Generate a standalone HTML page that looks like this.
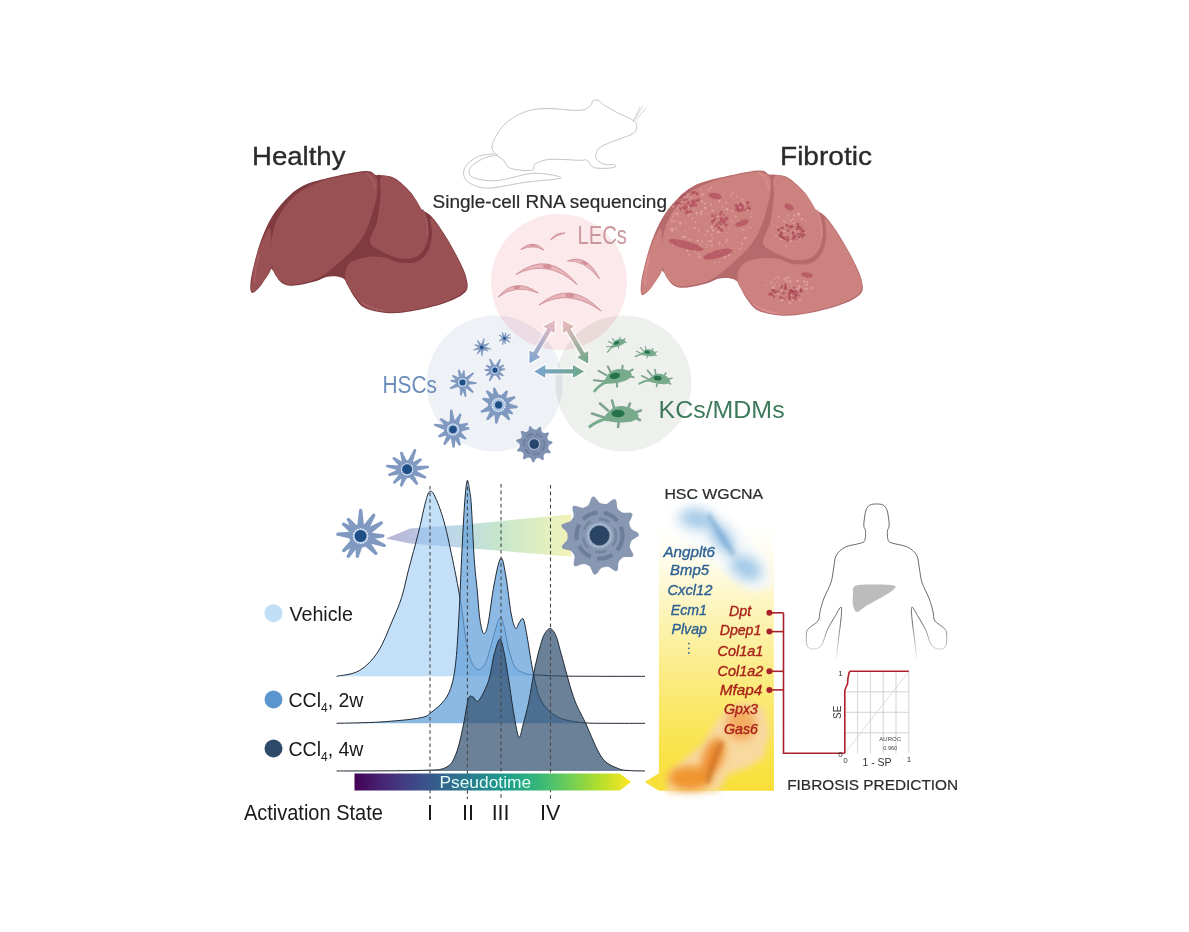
<!DOCTYPE html>
<html><head><meta charset="utf-8"><style>
html,body{margin:0;padding:0;background:#fff;width:1189px;height:932px;overflow:hidden}
svg{display:block;font-family:"Liberation Sans", sans-serif}
</style></head><body>
<svg width="1189" height="932" viewBox="0 0 1189 932">
<defs><linearGradient id="viridis" x1="0" x2="1" y1="0" y2="0"><stop offset="0" stop-color="#440154"/><stop offset="0.111" stop-color="#482878"/><stop offset="0.222" stop-color="#3e4989"/><stop offset="0.333" stop-color="#31688e"/><stop offset="0.444" stop-color="#26828e"/><stop offset="0.555" stop-color="#1f9e89"/><stop offset="0.666" stop-color="#35b779"/><stop offset="0.777" stop-color="#6ece58"/><stop offset="0.888" stop-color="#b5de2b"/><stop offset="1" stop-color="#fde725"/></linearGradient><linearGradient id="wedge" x1="386" x2="572" y1="0" y2="0" gradientUnits="userSpaceOnUse">
<stop offset="0" stop-color="#b9b3d6"/><stop offset="0.35" stop-color="#bcd6ea"/>
<stop offset="0.6" stop-color="#c6e6cc"/><stop offset="1" stop-color="#f3f3b8"/></linearGradient><linearGradient id="ypanel" x1="0" x2="0" y1="524" y2="791" gradientUnits="userSpaceOnUse">
<stop offset="0" stop-color="#ffffff"/><stop offset="0.12" stop-color="#fffdf0"/>
<stop offset="0.3" stop-color="#fdf5c0"/><stop offset="0.55" stop-color="#fbec88"/>
<stop offset="0.8" stop-color="#f9e552"/><stop offset="1" stop-color="#f8df38"/></linearGradient><filter id="blur4" x="-50%" y="-50%" width="200%" height="200%"><feGaussianBlur stdDeviation="4"/></filter><filter id="blur2" x="-50%" y="-50%" width="200%" height="200%"><feGaussianBlur stdDeviation="2"/></filter><filter id="blur1" x="-50%" y="-50%" width="200%" height="200%"><feGaussianBlur stdDeviation="0.8"/></filter><linearGradient id="bodyfade" x1="0" x2="0" y1="500" y2="662" gradientUnits="userSpaceOnUse">
<stop offset="0" stop-color="#6a6a6a"/><stop offset="0.75" stop-color="#6a6a6a"/><stop offset="1" stop-color="#6a6a6a" stop-opacity="0"/></linearGradient><clipPath id="fibclip"><path d="M252.0,293.0 C250.2,292.5 249.9,287.8 250.6,281.6 C251.3,275.4 254.2,263.5 256.2,256.0 C258.2,248.5 259.9,242.9 262.5,236.5 C265.1,230.1 267.7,223.7 271.5,217.5 C275.3,211.3 280.3,204.8 285.5,199.5 C290.7,194.2 295.4,189.6 302.5,186.0 C309.6,182.4 317.6,180.5 328.0,178.0 C338.4,175.5 357.0,171.5 365.0,171.0 C373.0,170.5 373.5,174.3 376.0,175.0 C378.5,175.7 376.9,174.4 380.0,175.0 C383.1,175.6 389.6,175.2 394.9,178.3 C400.1,181.4 407.6,188.6 411.5,193.3 C415.4,198.0 414.8,202.7 418.1,206.6 C421.4,210.5 427.1,211.8 431.5,216.5 C435.9,221.2 440.4,227.9 444.8,234.8 C449.2,241.7 454.4,250.9 458.0,258.1 C461.6,265.3 465.2,272.4 466.4,278.0 C467.6,283.6 469.0,287.8 465.4,292.0 C461.8,296.2 453.8,299.8 444.8,303.0 C435.8,306.2 421.2,309.6 411.5,311.3 C401.8,313.0 394.4,313.6 386.6,313.0 C378.9,312.4 370.3,310.5 365.0,308.0 C359.7,305.5 357.8,301.5 355.0,298.0 C352.2,294.5 350.2,290.1 348.5,287.0 C346.8,283.9 346.4,281.2 344.5,279.5 C342.6,277.8 340.1,276.9 337.0,276.5 C333.9,276.1 329.7,276.1 326.0,277.0 C322.3,277.9 320.4,280.1 314.8,281.6 C309.2,283.1 298.1,285.7 292.4,285.8 C286.7,285.9 283.9,284.6 280.7,282.0 C277.4,279.4 274.8,272.5 272.9,270.5 C270.9,268.5 270.9,267.7 269.0,270.0 C267.1,272.3 264.5,280.6 261.7,284.4 C258.9,288.2 253.8,293.5 252.0,293.0 Z" transform="translate(384.9,-4.3) scale(1.022)"/></clipPath><linearGradient id="arH" x1="534" x2="584" y1="0" y2="0" gradientUnits="userSpaceOnUse"><stop offset="0" stop-color="#7ba3d0"/><stop offset="1" stop-color="#6fa88a"/></linearGradient><linearGradient id="arL" x1="529" y1="363" x2="555" y2="320" gradientUnits="userSpaceOnUse"><stop offset="0" stop-color="#7ba3d0"/><stop offset="1" stop-color="#f0bcc0"/></linearGradient><linearGradient id="arR" x1="588" y1="363" x2="563" y2="320" gradientUnits="userSpaceOnUse"><stop offset="0" stop-color="#6fa88a"/><stop offset="1" stop-color="#f0bcc0"/></linearGradient><filter id="blur6" x="-50%" y="-50%" width="200%" height="200%"><feGaussianBlur stdDeviation="6"/></filter><filter id="blur3" x="-50%" y="-50%" width="200%" height="200%"><feGaussianBlur stdDeviation="3"/></filter></defs>
<rect width="1189" height="932" fill="#fff"/>
<path d="M492.6,143.7 C494.2,139.1 498.5,130.4 503.7,125.2 C508.9,120.0 516.9,115.0 524.0,112.2 C531.1,109.4 537.0,108.8 546.2,108.5 C555.5,108.2 572.1,110.9 579.5,110.4 C586.9,109.9 588.4,107.2 590.6,105.7 C592.8,104.2 591.3,102.0 592.5,101.1 C593.7,100.2 596.1,99.6 598.0,100.2 C599.9,100.8 600.5,102.8 603.6,104.8 C606.7,106.8 611.6,109.6 616.5,112.2 C621.4,114.8 629.8,118.0 633.2,120.5 C636.6,123.0 636.9,124.8 636.9,127.0 C636.9,129.2 635.7,131.7 633.2,133.5 C630.7,135.3 626.3,136.4 622.0,138.1 C617.7,139.8 611.3,141.8 607.3,143.7 C603.3,145.5 599.9,146.7 598.0,149.2 C596.1,151.7 595.3,156.0 596.2,158.5 C597.1,161.0 600.5,162.9 603.6,164.0 C606.7,165.1 613.2,164.3 614.7,164.9 C616.2,165.5 616.2,167.2 612.8,167.7 C609.4,168.2 598.6,168.9 594.3,167.7 C590.0,166.5 589.4,161.5 586.9,160.3 C584.4,159.1 585.7,160.5 579.5,160.3 C573.3,160.2 557.3,158.8 549.9,159.4 C542.5,160.0 537.9,162.3 535.1,164.0 C532.3,165.7 535.1,168.5 533.2,169.6 C531.4,170.7 528.0,170.8 524.0,170.5 C520.0,170.2 512.6,169.4 509.2,167.7 C505.8,166.0 506.2,162.8 503.7,160.3 C501.2,157.8 496.2,155.7 494.4,152.9 C492.5,150.1 491.1,148.3 492.6,143.7 Z" fill="none" stroke="#c4c4c4" stroke-width="1"/><path d="M494.4,153.8 C491.6,154.3 482.7,154.3 477.8,156.6 C472.9,158.9 466.7,163.7 464.8,167.7 C462.9,171.7 463.0,177.3 466.7,180.7 C470.4,184.1 477.4,187.8 487.0,188.1 C496.6,188.4 511.7,184.2 524.0,182.5 C536.3,180.8 559.5,179.4 561.0,177.9 C562.5,176.4 544.0,172.8 533.2,173.3 C522.4,173.8 506.5,180.1 496.3,180.7 C486.1,181.3 476.5,179.2 472.2,177.0 C467.9,174.8 468.5,170.8 470.4,167.7 C472.2,164.6 478.7,160.7 483.3,158.5 C487.9,156.3 495.6,155.4 498.1,154.8" fill="none" stroke="#c4c4c4" stroke-width="1"/><line x1="634" y1="120" x2="643" y2="106" stroke="#c4c4c4" stroke-width="0.7"/><line x1="635" y1="121" x2="646" y2="108" stroke="#c4c4c4" stroke-width="0.7"/><line x1="633" y1="122" x2="640" y2="107" stroke="#c4c4c4" stroke-width="0.7"/><text x="252" y="165.3" font-size="26.5" fill="#2b2b2b" stroke="#2b2b2b" stroke-width="0.35" textLength="93.5" lengthAdjust="spacingAndGlyphs">Healthy</text><text x="780" y="165.3" font-size="26.5" fill="#2b2b2b" stroke="#2b2b2b" stroke-width="0.35" textLength="92" lengthAdjust="spacingAndGlyphs">Fibrotic</text><text x="432.5" y="208.3" font-size="17.5" fill="#2b2b2b" stroke="#2b2b2b" stroke-width="0.2" textLength="234.5" lengthAdjust="spacingAndGlyphs">Single-cell RNA sequencing</text><g transform="translate(0,0)"><path d="M252.0,293.0 C250.2,292.5 249.9,287.8 250.6,281.6 C251.3,275.4 254.2,263.5 256.2,256.0 C258.2,248.5 259.9,242.9 262.5,236.5 C265.1,230.1 267.7,223.7 271.5,217.5 C275.3,211.3 280.3,204.8 285.5,199.5 C290.7,194.2 295.4,189.6 302.5,186.0 C309.6,182.4 317.6,180.5 328.0,178.0 C338.4,175.5 357.0,171.5 365.0,171.0 C373.0,170.5 373.5,174.3 376.0,175.0 C378.5,175.7 376.9,174.4 380.0,175.0 C383.1,175.6 389.6,175.2 394.9,178.3 C400.1,181.4 407.6,188.6 411.5,193.3 C415.4,198.0 414.8,202.7 418.1,206.6 C421.4,210.5 427.1,211.8 431.5,216.5 C435.9,221.2 440.4,227.9 444.8,234.8 C449.2,241.7 454.4,250.9 458.0,258.1 C461.6,265.3 465.2,272.4 466.4,278.0 C467.6,283.6 469.0,287.8 465.4,292.0 C461.8,296.2 453.8,299.8 444.8,303.0 C435.8,306.2 421.2,309.6 411.5,311.3 C401.8,313.0 394.4,313.6 386.6,313.0 C378.9,312.4 370.3,310.5 365.0,308.0 C359.7,305.5 357.8,301.5 355.0,298.0 C352.2,294.5 350.2,290.1 348.5,287.0 C346.8,283.9 346.4,281.2 344.5,279.5 C342.6,277.8 340.1,276.9 337.0,276.5 C333.9,276.1 329.7,276.1 326.0,277.0 C322.3,277.9 320.4,280.1 314.8,281.6 C309.2,283.1 298.1,285.7 292.4,285.8 C286.7,285.9 283.9,284.6 280.7,282.0 C277.4,279.4 274.8,272.5 272.9,270.5 C270.9,268.5 270.9,267.7 269.0,270.0 C267.1,272.3 264.5,280.6 261.7,284.4 C258.9,288.2 253.8,293.5 252.0,293.0 Z" fill="#7f3b3f"/><path d="M252.5,292.0 C250.8,291.7 250.9,287.4 251.5,281.6 C252.1,275.8 254.3,264.1 256.2,257.0 C258.1,249.9 260.8,243.8 263.1,239.0 C265.4,234.2 268.6,226.2 270.0,228.0 C271.4,229.8 271.2,243.3 271.5,250.0 C271.8,256.7 273.1,262.4 271.5,268.0 C269.9,273.6 265.2,279.5 262.0,283.5 C258.8,287.5 254.2,292.3 252.5,292.0 Z" fill="#9a5154"/><path d="M273.5,271.0 C271.9,265.9 270.9,257.2 271.0,250.0 C271.1,242.8 272.0,234.8 274.0,228.0 C276.0,221.2 279.0,215.3 283.0,209.5 C287.0,203.7 291.7,197.7 298.0,193.0 C304.3,188.3 312.3,184.6 321.0,181.5 C329.7,178.4 342.2,176.0 350.0,174.5 C357.8,173.0 363.6,172.0 368.0,172.5 C372.4,173.0 374.9,174.8 376.5,177.5 C378.1,180.2 377.6,185.2 377.5,189.0 C377.4,192.8 377.1,195.2 376.0,200.0 C374.9,204.8 372.9,212.3 371.0,218.0 C369.1,223.7 367.2,229.1 364.5,234.0 C361.8,238.9 358.4,243.5 355.0,247.5 C351.6,251.5 348.5,253.9 344.0,258.0 C339.5,262.1 333.3,268.2 328.0,272.0 C322.7,275.8 318.2,278.4 312.0,280.5 C305.8,282.6 296.2,284.5 291.0,284.5 C285.8,284.5 283.4,282.8 280.5,280.5 C277.6,278.2 275.1,276.1 273.5,271.0 Z" fill="#9a5154"/><path d="M381.0,177.0 C383.4,174.2 390.0,176.8 395.0,179.5 C400.0,182.2 406.7,188.2 411.0,193.0 C415.3,197.8 418.2,203.2 421.0,208.5 C423.8,213.8 426.6,219.1 427.5,225.0 C428.4,230.9 428.2,238.8 426.5,244.0 C424.8,249.2 421.4,254.1 417.0,256.5 C412.6,258.9 405.8,259.3 400.0,258.5 C394.2,257.7 387.0,254.2 382.0,251.5 C377.0,248.8 370.8,246.9 370.0,242.0 C369.2,237.1 375.2,229.7 377.0,222.0 C378.8,214.3 379.8,203.5 380.5,196.0 C381.2,188.5 378.6,179.8 381.0,177.0 Z" fill="#9a5154"/><path d="M345.5,281.0 C344.9,278.0 344.9,273.2 346.0,270.0 C347.1,266.8 348.3,263.7 352.0,261.5 C355.7,259.3 362.5,257.7 368.0,257.0 C373.5,256.3 379.8,256.6 385.0,257.5 C390.2,258.4 393.7,261.8 399.0,262.5 C404.3,263.2 412.2,263.4 417.0,261.5 C421.8,259.6 425.5,255.6 428.0,251.0 C430.5,246.4 431.5,239.5 432.0,234.0 C432.5,228.5 428.9,217.7 431.0,218.0 C433.1,218.3 440.4,229.2 444.8,236.0 C449.2,242.8 454.1,251.5 457.5,258.5 C460.9,265.5 464.3,272.6 465.5,278.0 C466.7,283.4 468.1,287.0 464.5,291.0 C460.9,295.0 452.8,298.8 444.0,302.0 C435.2,305.2 421.1,308.6 411.5,310.3 C401.9,312.0 394.2,312.6 386.6,312.0 C379.0,311.4 371.1,309.4 366.0,307.0 C360.9,304.6 358.8,300.7 356.0,297.5 C353.2,294.3 351.2,290.8 349.5,288.0 C347.8,285.2 346.1,284.0 345.5,281.0 Z" fill="#9a5154"/><path d="M366,173.5 Q374,177 375.5,189" fill="none" stroke="#a86366" stroke-width="1.6" stroke-linecap="round" opacity="0.8"/><path d="M423,210 Q428.5,222 427.5,236" fill="none" stroke="#a86366" stroke-width="1.6" stroke-linecap="round" opacity="0.8"/><path d="M361,302 Q370,309 383,310.5" fill="none" stroke="#a86366" stroke-width="1.6" stroke-linecap="round" opacity="0.8"/><path d="M254.5,283 Q255,268 259,255" fill="none" stroke="#a86366" stroke-width="1.6" stroke-linecap="round" opacity="0.8"/></g><g transform="translate(384.9,-4.3) scale(1.022)"><path d="M252.0,293.0 C250.2,292.5 249.9,287.8 250.6,281.6 C251.3,275.4 254.2,263.5 256.2,256.0 C258.2,248.5 259.9,242.9 262.5,236.5 C265.1,230.1 267.7,223.7 271.5,217.5 C275.3,211.3 280.3,204.8 285.5,199.5 C290.7,194.2 295.4,189.6 302.5,186.0 C309.6,182.4 317.6,180.5 328.0,178.0 C338.4,175.5 357.0,171.5 365.0,171.0 C373.0,170.5 373.5,174.3 376.0,175.0 C378.5,175.7 376.9,174.4 380.0,175.0 C383.1,175.6 389.6,175.2 394.9,178.3 C400.1,181.4 407.6,188.6 411.5,193.3 C415.4,198.0 414.8,202.7 418.1,206.6 C421.4,210.5 427.1,211.8 431.5,216.5 C435.9,221.2 440.4,227.9 444.8,234.8 C449.2,241.7 454.4,250.9 458.0,258.1 C461.6,265.3 465.2,272.4 466.4,278.0 C467.6,283.6 469.0,287.8 465.4,292.0 C461.8,296.2 453.8,299.8 444.8,303.0 C435.8,306.2 421.2,309.6 411.5,311.3 C401.8,313.0 394.4,313.6 386.6,313.0 C378.9,312.4 370.3,310.5 365.0,308.0 C359.7,305.5 357.8,301.5 355.0,298.0 C352.2,294.5 350.2,290.1 348.5,287.0 C346.8,283.9 346.4,281.2 344.5,279.5 C342.6,277.8 340.1,276.9 337.0,276.5 C333.9,276.1 329.7,276.1 326.0,277.0 C322.3,277.9 320.4,280.1 314.8,281.6 C309.2,283.1 298.1,285.7 292.4,285.8 C286.7,285.9 283.9,284.6 280.7,282.0 C277.4,279.4 274.8,272.5 272.9,270.5 C270.9,268.5 270.9,267.7 269.0,270.0 C267.1,272.3 264.5,280.6 261.7,284.4 C258.9,288.2 253.8,293.5 252.0,293.0 Z" fill="#b56a6c"/><path d="M252.5,292.0 C250.8,291.7 250.9,287.4 251.5,281.6 C252.1,275.8 254.3,264.1 256.2,257.0 C258.1,249.9 260.8,243.8 263.1,239.0 C265.4,234.2 268.6,226.2 270.0,228.0 C271.4,229.8 271.2,243.3 271.5,250.0 C271.8,256.7 273.1,262.4 271.5,268.0 C269.9,273.6 265.2,279.5 262.0,283.5 C258.8,287.5 254.2,292.3 252.5,292.0 Z" fill="#cc8380"/><path d="M273.5,271.0 C271.9,265.9 270.9,257.2 271.0,250.0 C271.1,242.8 272.0,234.8 274.0,228.0 C276.0,221.2 279.0,215.3 283.0,209.5 C287.0,203.7 291.7,197.7 298.0,193.0 C304.3,188.3 312.3,184.6 321.0,181.5 C329.7,178.4 342.2,176.0 350.0,174.5 C357.8,173.0 363.6,172.0 368.0,172.5 C372.4,173.0 374.9,174.8 376.5,177.5 C378.1,180.2 377.6,185.2 377.5,189.0 C377.4,192.8 377.1,195.2 376.0,200.0 C374.9,204.8 372.9,212.3 371.0,218.0 C369.1,223.7 367.2,229.1 364.5,234.0 C361.8,238.9 358.4,243.5 355.0,247.5 C351.6,251.5 348.5,253.9 344.0,258.0 C339.5,262.1 333.3,268.2 328.0,272.0 C322.7,275.8 318.2,278.4 312.0,280.5 C305.8,282.6 296.2,284.5 291.0,284.5 C285.8,284.5 283.4,282.8 280.5,280.5 C277.6,278.2 275.1,276.1 273.5,271.0 Z" fill="#cc8380"/><path d="M381.0,177.0 C383.4,174.2 390.0,176.8 395.0,179.5 C400.0,182.2 406.7,188.2 411.0,193.0 C415.3,197.8 418.2,203.2 421.0,208.5 C423.8,213.8 426.6,219.1 427.5,225.0 C428.4,230.9 428.2,238.8 426.5,244.0 C424.8,249.2 421.4,254.1 417.0,256.5 C412.6,258.9 405.8,259.3 400.0,258.5 C394.2,257.7 387.0,254.2 382.0,251.5 C377.0,248.8 370.8,246.9 370.0,242.0 C369.2,237.1 375.2,229.7 377.0,222.0 C378.8,214.3 379.8,203.5 380.5,196.0 C381.2,188.5 378.6,179.8 381.0,177.0 Z" fill="#cc8380"/><path d="M345.5,281.0 C344.9,278.0 344.9,273.2 346.0,270.0 C347.1,266.8 348.3,263.7 352.0,261.5 C355.7,259.3 362.5,257.7 368.0,257.0 C373.5,256.3 379.8,256.6 385.0,257.5 C390.2,258.4 393.7,261.8 399.0,262.5 C404.3,263.2 412.2,263.4 417.0,261.5 C421.8,259.6 425.5,255.6 428.0,251.0 C430.5,246.4 431.5,239.5 432.0,234.0 C432.5,228.5 428.9,217.7 431.0,218.0 C433.1,218.3 440.4,229.2 444.8,236.0 C449.2,242.8 454.1,251.5 457.5,258.5 C460.9,265.5 464.3,272.6 465.5,278.0 C466.7,283.4 468.1,287.0 464.5,291.0 C460.9,295.0 452.8,298.8 444.0,302.0 C435.2,305.2 421.1,308.6 411.5,310.3 C401.9,312.0 394.2,312.6 386.6,312.0 C379.0,311.4 371.1,309.4 366.0,307.0 C360.9,304.6 358.8,300.7 356.0,297.5 C353.2,294.3 351.2,290.8 349.5,288.0 C347.8,285.2 346.1,284.0 345.5,281.0 Z" fill="#cc8380"/><path d="M366,173.5 Q374,177 375.5,189" fill="none" stroke="#dc9090" stroke-width="1.6" stroke-linecap="round" opacity="0.8"/><path d="M423,210 Q428.5,222 427.5,236" fill="none" stroke="#dc9090" stroke-width="1.6" stroke-linecap="round" opacity="0.8"/><path d="M361,302 Q370,309 383,310.5" fill="none" stroke="#dc9090" stroke-width="1.6" stroke-linecap="round" opacity="0.8"/><path d="M254.5,283 Q255,268 259,255" fill="none" stroke="#dc9090" stroke-width="1.6" stroke-linecap="round" opacity="0.8"/></g><g clip-path="url(#fibclip)"><circle cx="712.5" cy="253.0" r="0.8" fill="#eaa9ab" fill-opacity="0.7"/><circle cx="681.7" cy="206.7" r="0.6" fill="#eaa9ab" fill-opacity="0.7"/><circle cx="751.0" cy="227.9" r="0.7" fill="#eaa9ab" fill-opacity="0.7"/><circle cx="714.4" cy="262.7" r="0.9" fill="#eaa9ab" fill-opacity="0.7"/><circle cx="726.1" cy="202.5" r="1.0" fill="#eaa9ab" fill-opacity="0.7"/><circle cx="731.0" cy="249.6" r="1.2" fill="#eaa9ab" fill-opacity="0.7"/><circle cx="671.7" cy="220.3" r="1.0" fill="#eaa9ab" fill-opacity="0.7"/><circle cx="746.1" cy="238.0" r="1.0" fill="#eaa9ab" fill-opacity="0.7"/><circle cx="707.5" cy="231.3" r="1.2" fill="#eaa9ab" fill-opacity="0.7"/><circle cx="672.4" cy="230.5" r="1.2" fill="#eaa9ab" fill-opacity="0.7"/><circle cx="700.3" cy="189.5" r="0.8" fill="#eaa9ab" fill-opacity="0.7"/><circle cx="719.4" cy="200.9" r="1.2" fill="#eaa9ab" fill-opacity="0.7"/><circle cx="720.2" cy="216.8" r="0.6" fill="#eaa9ab" fill-opacity="0.7"/><circle cx="719.1" cy="261.5" r="0.8" fill="#eaa9ab" fill-opacity="0.7"/><circle cx="692.7" cy="210.1" r="0.9" fill="#eaa9ab" fill-opacity="0.7"/><circle cx="689.9" cy="239.8" r="1.0" fill="#eaa9ab" fill-opacity="0.7"/><circle cx="673.1" cy="206.8" r="1.0" fill="#eaa9ab" fill-opacity="0.7"/><circle cx="747.6" cy="209.8" r="1.3" fill="#eaa9ab" fill-opacity="0.7"/><circle cx="701.4" cy="211.5" r="1.2" fill="#eaa9ab" fill-opacity="0.7"/><circle cx="751.7" cy="217.0" r="1.0" fill="#eaa9ab" fill-opacity="0.7"/><circle cx="705.3" cy="208.0" r="1.2" fill="#eaa9ab" fill-opacity="0.7"/><circle cx="688.5" cy="216.0" r="0.6" fill="#eaa9ab" fill-opacity="0.7"/><circle cx="737.2" cy="195.0" r="0.6" fill="#eaa9ab" fill-opacity="0.7"/><circle cx="719.0" cy="201.9" r="0.6" fill="#eaa9ab" fill-opacity="0.7"/><circle cx="699.3" cy="257.1" r="1.2" fill="#eaa9ab" fill-opacity="0.7"/><circle cx="743.9" cy="233.2" r="0.5" fill="#eaa9ab" fill-opacity="0.7"/><circle cx="704.9" cy="203.6" r="1.2" fill="#eaa9ab" fill-opacity="0.7"/><circle cx="741.8" cy="221.7" r="1.3" fill="#eaa9ab" fill-opacity="0.7"/><circle cx="705.4" cy="234.8" r="1.0" fill="#eaa9ab" fill-opacity="0.7"/><circle cx="729.6" cy="228.3" r="0.8" fill="#eaa9ab" fill-opacity="0.7"/><circle cx="696.3" cy="215.4" r="0.5" fill="#eaa9ab" fill-opacity="0.7"/><circle cx="727.0" cy="209.3" r="1.3" fill="#eaa9ab" fill-opacity="0.7"/><circle cx="732.0" cy="210.9" r="0.9" fill="#eaa9ab" fill-opacity="0.7"/><circle cx="674.2" cy="221.2" r="1.0" fill="#eaa9ab" fill-opacity="0.7"/><circle cx="677.0" cy="214.1" r="1.3" fill="#eaa9ab" fill-opacity="0.7"/><circle cx="680.5" cy="223.9" r="1.1" fill="#eaa9ab" fill-opacity="0.7"/><circle cx="711.9" cy="245.8" r="1.3" fill="#eaa9ab" fill-opacity="0.7"/><circle cx="677.0" cy="221.3" r="0.5" fill="#eaa9ab" fill-opacity="0.7"/><circle cx="680.5" cy="239.7" r="0.5" fill="#eaa9ab" fill-opacity="0.7"/><circle cx="683.3" cy="204.9" r="0.5" fill="#eaa9ab" fill-opacity="0.7"/><circle cx="688.6" cy="206.4" r="1.0" fill="#eaa9ab" fill-opacity="0.7"/><circle cx="687.3" cy="250.5" r="1.1" fill="#eaa9ab" fill-opacity="0.7"/><circle cx="721.0" cy="226.3" r="1.0" fill="#eaa9ab" fill-opacity="0.7"/><circle cx="732.0" cy="220.6" r="0.9" fill="#eaa9ab" fill-opacity="0.7"/><circle cx="688.7" cy="213.2" r="0.8" fill="#eaa9ab" fill-opacity="0.7"/><circle cx="699.5" cy="246.3" r="1.0" fill="#eaa9ab" fill-opacity="0.7"/><circle cx="701.4" cy="247.2" r="1.1" fill="#eaa9ab" fill-opacity="0.7"/><circle cx="743.5" cy="229.8" r="1.1" fill="#eaa9ab" fill-opacity="0.7"/><circle cx="702.2" cy="241.7" r="1.1" fill="#eaa9ab" fill-opacity="0.7"/><circle cx="711.4" cy="241.4" r="0.8" fill="#eaa9ab" fill-opacity="0.7"/><circle cx="705.4" cy="213.5" r="0.8" fill="#eaa9ab" fill-opacity="0.7"/><circle cx="689.4" cy="255.0" r="0.9" fill="#eaa9ab" fill-opacity="0.7"/><circle cx="721.4" cy="212.7" r="0.8" fill="#eaa9ab" fill-opacity="0.7"/><circle cx="685.2" cy="196.1" r="0.9" fill="#eaa9ab" fill-opacity="0.7"/><circle cx="712.4" cy="238.1" r="0.9" fill="#eaa9ab" fill-opacity="0.7"/><circle cx="724.7" cy="256.8" r="1.2" fill="#eaa9ab" fill-opacity="0.7"/><circle cx="719.6" cy="243.3" r="1.1" fill="#eaa9ab" fill-opacity="0.7"/><circle cx="684.6" cy="198.4" r="0.8" fill="#eaa9ab" fill-opacity="0.7"/><circle cx="726.7" cy="239.9" r="1.1" fill="#eaa9ab" fill-opacity="0.7"/><circle cx="706.5" cy="247.2" r="0.8" fill="#eaa9ab" fill-opacity="0.7"/><circle cx="684.8" cy="236.7" r="1.2" fill="#eaa9ab" fill-opacity="0.7"/><circle cx="711.7" cy="227.2" r="1.3" fill="#eaa9ab" fill-opacity="0.7"/><circle cx="742.6" cy="199.2" r="0.8" fill="#eaa9ab" fill-opacity="0.7"/><circle cx="751.2" cy="213.7" r="0.7" fill="#eaa9ab" fill-opacity="0.7"/><circle cx="708.8" cy="190.3" r="1.0" fill="#eaa9ab" fill-opacity="0.7"/><circle cx="686.0" cy="222.6" r="0.8" fill="#eaa9ab" fill-opacity="0.7"/><circle cx="711.7" cy="234.8" r="1.0" fill="#eaa9ab" fill-opacity="0.7"/><circle cx="700.7" cy="258.3" r="0.5" fill="#eaa9ab" fill-opacity="0.7"/><circle cx="740.8" cy="207.0" r="1.2" fill="#eaa9ab" fill-opacity="0.7"/><circle cx="744.0" cy="203.2" r="1.0" fill="#eaa9ab" fill-opacity="0.7"/><circle cx="748.7" cy="227.7" r="0.6" fill="#eaa9ab" fill-opacity="0.7"/><circle cx="698.7" cy="254.4" r="0.9" fill="#eaa9ab" fill-opacity="0.7"/><circle cx="672.6" cy="244.0" r="1.0" fill="#eaa9ab" fill-opacity="0.7"/><circle cx="697.7" cy="241.0" r="1.2" fill="#eaa9ab" fill-opacity="0.7"/><circle cx="670.6" cy="229.8" r="0.8" fill="#eaa9ab" fill-opacity="0.7"/><circle cx="720.7" cy="251.3" r="1.2" fill="#eaa9ab" fill-opacity="0.7"/><circle cx="729.0" cy="254.8" r="1.2" fill="#eaa9ab" fill-opacity="0.7"/><circle cx="724.1" cy="192.6" r="0.5" fill="#eaa9ab" fill-opacity="0.7"/><circle cx="681.1" cy="199.5" r="0.5" fill="#eaa9ab" fill-opacity="0.7"/><circle cx="706.9" cy="244.5" r="0.9" fill="#eaa9ab" fill-opacity="0.7"/><circle cx="682.6" cy="237.2" r="1.1" fill="#eaa9ab" fill-opacity="0.7"/><circle cx="720.5" cy="225.1" r="0.6" fill="#eaa9ab" fill-opacity="0.7"/><circle cx="718.3" cy="232.0" r="1.3" fill="#eaa9ab" fill-opacity="0.7"/><circle cx="718.1" cy="216.2" r="0.9" fill="#eaa9ab" fill-opacity="0.7"/><circle cx="699.8" cy="244.5" r="0.8" fill="#eaa9ab" fill-opacity="0.7"/><circle cx="689.2" cy="201.8" r="0.8" fill="#eaa9ab" fill-opacity="0.7"/><circle cx="719.3" cy="245.3" r="0.6" fill="#eaa9ab" fill-opacity="0.7"/><circle cx="674.2" cy="214.0" r="0.8" fill="#eaa9ab" fill-opacity="0.7"/><circle cx="726.7" cy="232.7" r="0.8" fill="#eaa9ab" fill-opacity="0.7"/><circle cx="678.5" cy="204.5" r="0.8" fill="#eaa9ab" fill-opacity="0.7"/><circle cx="721.2" cy="196.5" r="0.8" fill="#eaa9ab" fill-opacity="0.7"/><circle cx="688.0" cy="244.2" r="1.1" fill="#eaa9ab" fill-opacity="0.7"/><circle cx="677.1" cy="240.2" r="0.9" fill="#eaa9ab" fill-opacity="0.7"/><circle cx="711.0" cy="252.8" r="1.1" fill="#eaa9ab" fill-opacity="0.7"/><circle cx="736.4" cy="235.8" r="0.8" fill="#eaa9ab" fill-opacity="0.7"/><circle cx="741.7" cy="199.8" r="0.8" fill="#eaa9ab" fill-opacity="0.7"/><circle cx="742.1" cy="204.8" r="0.7" fill="#eaa9ab" fill-opacity="0.7"/><circle cx="694.6" cy="228.0" r="1.2" fill="#eaa9ab" fill-opacity="0.7"/><circle cx="687.8" cy="194.5" r="1.1" fill="#eaa9ab" fill-opacity="0.7"/><circle cx="690.9" cy="196.7" r="1.0" fill="#eaa9ab" fill-opacity="0.7"/><circle cx="737.5" cy="242.6" r="0.5" fill="#eaa9ab" fill-opacity="0.7"/><circle cx="734.6" cy="251.2" r="0.5" fill="#eaa9ab" fill-opacity="0.7"/><circle cx="721.9" cy="231.5" r="1.2" fill="#eaa9ab" fill-opacity="0.7"/><circle cx="713.0" cy="230.3" r="1.2" fill="#eaa9ab" fill-opacity="0.7"/><circle cx="739.9" cy="249.1" r="1.0" fill="#eaa9ab" fill-opacity="0.7"/><circle cx="732.6" cy="193.2" r="1.0" fill="#eaa9ab" fill-opacity="0.7"/><circle cx="712.6" cy="218.1" r="1.1" fill="#eaa9ab" fill-opacity="0.7"/><circle cx="672.0" cy="222.7" r="0.6" fill="#eaa9ab" fill-opacity="0.7"/><circle cx="709.7" cy="188.3" r="0.5" fill="#eaa9ab" fill-opacity="0.7"/><circle cx="694.8" cy="250.5" r="1.2" fill="#eaa9ab" fill-opacity="0.7"/><circle cx="710.9" cy="241.1" r="0.7" fill="#eaa9ab" fill-opacity="0.7"/><circle cx="680.9" cy="203.0" r="0.8" fill="#eaa9ab" fill-opacity="0.7"/><circle cx="690.9" cy="242.7" r="0.8" fill="#eaa9ab" fill-opacity="0.7"/><circle cx="698.7" cy="230.4" r="0.9" fill="#eaa9ab" fill-opacity="0.7"/><circle cx="738.5" cy="220.9" r="1.1" fill="#eaa9ab" fill-opacity="0.7"/><circle cx="729.9" cy="251.7" r="1.1" fill="#eaa9ab" fill-opacity="0.7"/><circle cx="695.1" cy="200.7" r="0.9" fill="#eaa9ab" fill-opacity="0.7"/><circle cx="683.4" cy="196.8" r="0.6" fill="#eaa9ab" fill-opacity="0.7"/><circle cx="742.1" cy="243.6" r="1.2" fill="#eaa9ab" fill-opacity="0.7"/><circle cx="680.2" cy="222.3" r="1.1" fill="#eaa9ab" fill-opacity="0.7"/><circle cx="719.1" cy="243.1" r="0.7" fill="#eaa9ab" fill-opacity="0.7"/><circle cx="688.3" cy="214.1" r="0.7" fill="#eaa9ab" fill-opacity="0.7"/><circle cx="694.1" cy="190.4" r="0.7" fill="#eaa9ab" fill-opacity="0.7"/><circle cx="702.0" cy="201.5" r="1.2" fill="#eaa9ab" fill-opacity="0.7"/><circle cx="690.0" cy="215.0" r="0.7" fill="#eaa9ab" fill-opacity="0.7"/><circle cx="740.8" cy="228.8" r="0.8" fill="#eaa9ab" fill-opacity="0.7"/><circle cx="722.7" cy="245.1" r="0.8" fill="#eaa9ab" fill-opacity="0.7"/><circle cx="712.6" cy="210.8" r="1.3" fill="#eaa9ab" fill-opacity="0.7"/><circle cx="675.5" cy="228.8" r="0.9" fill="#eaa9ab" fill-opacity="0.7"/><circle cx="730.7" cy="195.3" r="0.9" fill="#eaa9ab" fill-opacity="0.7"/><circle cx="672.1" cy="228.8" r="1.2" fill="#eaa9ab" fill-opacity="0.7"/><circle cx="678.8" cy="244.1" r="1.3" fill="#eaa9ab" fill-opacity="0.7"/><circle cx="688.9" cy="228.7" r="0.7" fill="#eaa9ab" fill-opacity="0.7"/><circle cx="702.5" cy="194.4" r="1.3" fill="#eaa9ab" fill-opacity="0.7"/><circle cx="723.4" cy="210.1" r="0.7" fill="#eaa9ab" fill-opacity="0.7"/><circle cx="708.9" cy="241.4" r="1.1" fill="#eaa9ab" fill-opacity="0.7"/><circle cx="736.9" cy="197.0" r="0.7" fill="#eaa9ab" fill-opacity="0.7"/><circle cx="726.7" cy="209.1" r="0.8" fill="#eaa9ab" fill-opacity="0.7"/><circle cx="708.3" cy="214.0" r="0.6" fill="#eaa9ab" fill-opacity="0.7"/><circle cx="722.2" cy="207.3" r="0.8" fill="#eaa9ab" fill-opacity="0.7"/><circle cx="677.6" cy="209.9" r="0.5" fill="#eaa9ab" fill-opacity="0.7"/><circle cx="694.9" cy="246.6" r="0.9" fill="#eaa9ab" fill-opacity="0.7"/><circle cx="718.5" cy="253.2" r="1.3" fill="#eaa9ab" fill-opacity="0.7"/><circle cx="684.3" cy="242.7" r="0.6" fill="#eaa9ab" fill-opacity="0.7"/><circle cx="704.3" cy="255.6" r="0.6" fill="#eaa9ab" fill-opacity="0.7"/><circle cx="742.6" cy="201.4" r="0.6" fill="#eaa9ab" fill-opacity="0.7"/><circle cx="735.7" cy="216.6" r="1.1" fill="#eaa9ab" fill-opacity="0.7"/><circle cx="711.1" cy="204.4" r="1.0" fill="#eaa9ab" fill-opacity="0.7"/><circle cx="687.1" cy="196.9" r="0.7" fill="#eaa9ab" fill-opacity="0.7"/><circle cx="711.2" cy="187.8" r="1.0" fill="#eaa9ab" fill-opacity="0.7"/><circle cx="695.2" cy="222.1" r="0.9" fill="#eaa9ab" fill-opacity="0.7"/><circle cx="687.2" cy="250.8" r="1.0" fill="#eaa9ab" fill-opacity="0.7"/><circle cx="692.4" cy="218.4" r="1.0" fill="#eaa9ab" fill-opacity="0.7"/><circle cx="697.0" cy="213.2" r="1.2" fill="#eaa9ab" fill-opacity="0.7"/><circle cx="701.2" cy="214.0" r="1.2" fill="#eaa9ab" fill-opacity="0.7"/><circle cx="726.3" cy="242.0" r="1.1" fill="#eaa9ab" fill-opacity="0.7"/><circle cx="682.6" cy="208.7" r="1.0" fill="#eaa9ab" fill-opacity="0.7"/><circle cx="685.7" cy="230.6" r="0.6" fill="#eaa9ab" fill-opacity="0.7"/><circle cx="744.6" cy="238.4" r="1.1" fill="#eaa9ab" fill-opacity="0.7"/><circle cx="672.7" cy="216.3" r="0.8" fill="#eaa9ab" fill-opacity="0.7"/><circle cx="790.8" cy="241.1" r="1.2" fill="#eaa9ab" fill-opacity="0.7"/><circle cx="805.7" cy="233.3" r="0.7" fill="#eaa9ab" fill-opacity="0.7"/><circle cx="793.4" cy="219.4" r="0.8" fill="#eaa9ab" fill-opacity="0.7"/><circle cx="779.9" cy="237.6" r="1.1" fill="#eaa9ab" fill-opacity="0.7"/><circle cx="780.9" cy="243.2" r="0.6" fill="#eaa9ab" fill-opacity="0.7"/><circle cx="791.2" cy="235.6" r="0.6" fill="#eaa9ab" fill-opacity="0.7"/><circle cx="795.1" cy="214.9" r="0.6" fill="#eaa9ab" fill-opacity="0.7"/><circle cx="796.8" cy="240.8" r="1.1" fill="#eaa9ab" fill-opacity="0.7"/><circle cx="798.9" cy="215.7" r="1.0" fill="#eaa9ab" fill-opacity="0.7"/><circle cx="799.6" cy="239.0" r="0.7" fill="#eaa9ab" fill-opacity="0.7"/><circle cx="777.1" cy="227.7" r="0.7" fill="#eaa9ab" fill-opacity="0.7"/><circle cx="792.0" cy="245.9" r="0.5" fill="#eaa9ab" fill-opacity="0.7"/><circle cx="798.2" cy="213.9" r="1.3" fill="#eaa9ab" fill-opacity="0.7"/><circle cx="781.0" cy="239.0" r="1.0" fill="#eaa9ab" fill-opacity="0.7"/><circle cx="778.8" cy="216.8" r="1.0" fill="#eaa9ab" fill-opacity="0.7"/><circle cx="786.3" cy="245.9" r="0.9" fill="#eaa9ab" fill-opacity="0.7"/><circle cx="778.3" cy="220.9" r="0.5" fill="#eaa9ab" fill-opacity="0.7"/><circle cx="794.1" cy="215.5" r="0.9" fill="#eaa9ab" fill-opacity="0.7"/><circle cx="778.6" cy="228.2" r="0.7" fill="#eaa9ab" fill-opacity="0.7"/><circle cx="788.2" cy="229.4" r="0.9" fill="#eaa9ab" fill-opacity="0.7"/><circle cx="783.9" cy="220.5" r="1.0" fill="#eaa9ab" fill-opacity="0.7"/><circle cx="810.3" cy="225.7" r="0.6" fill="#eaa9ab" fill-opacity="0.7"/><circle cx="796.2" cy="216.3" r="0.5" fill="#eaa9ab" fill-opacity="0.7"/><circle cx="785.8" cy="236.7" r="0.6" fill="#eaa9ab" fill-opacity="0.7"/><circle cx="773.3" cy="225.8" r="0.8" fill="#eaa9ab" fill-opacity="0.7"/><circle cx="803.4" cy="219.1" r="0.6" fill="#eaa9ab" fill-opacity="0.7"/><circle cx="801.8" cy="219.2" r="1.2" fill="#eaa9ab" fill-opacity="0.7"/><circle cx="788.3" cy="214.9" r="0.8" fill="#eaa9ab" fill-opacity="0.7"/><circle cx="798.7" cy="213.7" r="1.2" fill="#eaa9ab" fill-opacity="0.7"/><circle cx="775.9" cy="236.0" r="0.9" fill="#eaa9ab" fill-opacity="0.7"/><circle cx="795.2" cy="232.4" r="0.6" fill="#eaa9ab" fill-opacity="0.7"/><circle cx="794.5" cy="236.9" r="0.9" fill="#eaa9ab" fill-opacity="0.7"/><circle cx="787.4" cy="217.5" r="0.8" fill="#eaa9ab" fill-opacity="0.7"/><circle cx="785.5" cy="222.0" r="0.9" fill="#eaa9ab" fill-opacity="0.7"/><circle cx="792.6" cy="218.6" r="0.6" fill="#eaa9ab" fill-opacity="0.7"/><circle cx="805.7" cy="221.0" r="0.8" fill="#eaa9ab" fill-opacity="0.7"/><circle cx="782.0" cy="239.5" r="1.0" fill="#eaa9ab" fill-opacity="0.7"/><circle cx="792.2" cy="230.9" r="0.7" fill="#eaa9ab" fill-opacity="0.7"/><circle cx="793.6" cy="223.3" r="0.9" fill="#eaa9ab" fill-opacity="0.7"/><circle cx="795.1" cy="237.8" r="0.6" fill="#eaa9ab" fill-opacity="0.7"/><circle cx="785.3" cy="234.2" r="0.5" fill="#eaa9ab" fill-opacity="0.7"/><circle cx="798.3" cy="234.7" r="0.9" fill="#eaa9ab" fill-opacity="0.7"/><circle cx="794.8" cy="231.0" r="0.9" fill="#eaa9ab" fill-opacity="0.7"/><circle cx="778.0" cy="238.3" r="0.5" fill="#eaa9ab" fill-opacity="0.7"/><circle cx="781.7" cy="236.5" r="0.5" fill="#eaa9ab" fill-opacity="0.7"/><circle cx="801.1" cy="228.2" r="0.6" fill="#eaa9ab" fill-opacity="0.7"/><circle cx="784.0" cy="231.2" r="1.0" fill="#eaa9ab" fill-opacity="0.7"/><circle cx="788.0" cy="235.2" r="0.5" fill="#eaa9ab" fill-opacity="0.7"/><circle cx="790.5" cy="220.7" r="1.1" fill="#eaa9ab" fill-opacity="0.7"/><circle cx="773.1" cy="233.7" r="0.7" fill="#eaa9ab" fill-opacity="0.7"/><circle cx="788.0" cy="297.2" r="1.2" fill="#eaa9ab" fill-opacity="0.7"/><circle cx="778.3" cy="284.0" r="0.6" fill="#eaa9ab" fill-opacity="0.7"/><circle cx="778.3" cy="277.4" r="1.0" fill="#eaa9ab" fill-opacity="0.7"/><circle cx="792.2" cy="290.1" r="0.6" fill="#eaa9ab" fill-opacity="0.7"/><circle cx="790.2" cy="292.3" r="0.5" fill="#eaa9ab" fill-opacity="0.7"/><circle cx="775.1" cy="279.0" r="0.7" fill="#eaa9ab" fill-opacity="0.7"/><circle cx="804.4" cy="288.4" r="1.1" fill="#eaa9ab" fill-opacity="0.7"/><circle cx="808.2" cy="283.3" r="0.5" fill="#eaa9ab" fill-opacity="0.7"/><circle cx="781.7" cy="300.3" r="1.3" fill="#eaa9ab" fill-opacity="0.7"/><circle cx="799.1" cy="294.0" r="1.2" fill="#eaa9ab" fill-opacity="0.7"/><circle cx="799.3" cy="295.8" r="0.8" fill="#eaa9ab" fill-opacity="0.7"/><circle cx="778.2" cy="277.8" r="0.6" fill="#eaa9ab" fill-opacity="0.7"/><circle cx="786.7" cy="278.0" r="1.2" fill="#eaa9ab" fill-opacity="0.7"/><circle cx="766.2" cy="285.6" r="0.8" fill="#eaa9ab" fill-opacity="0.7"/><circle cx="778.1" cy="293.4" r="1.1" fill="#eaa9ab" fill-opacity="0.7"/><circle cx="775.6" cy="290.9" r="0.6" fill="#eaa9ab" fill-opacity="0.7"/><circle cx="784.6" cy="279.3" r="1.1" fill="#eaa9ab" fill-opacity="0.7"/><circle cx="775.3" cy="296.4" r="0.6" fill="#eaa9ab" fill-opacity="0.7"/><circle cx="787.1" cy="287.9" r="0.9" fill="#eaa9ab" fill-opacity="0.7"/><circle cx="789.0" cy="278.5" r="0.6" fill="#eaa9ab" fill-opacity="0.7"/><circle cx="789.8" cy="302.8" r="1.0" fill="#eaa9ab" fill-opacity="0.7"/><circle cx="804.2" cy="281.0" r="0.9" fill="#eaa9ab" fill-opacity="0.7"/><circle cx="804.4" cy="282.8" r="0.8" fill="#eaa9ab" fill-opacity="0.7"/><circle cx="783.6" cy="292.7" r="0.8" fill="#eaa9ab" fill-opacity="0.7"/><circle cx="795.5" cy="288.8" r="1.0" fill="#eaa9ab" fill-opacity="0.7"/><circle cx="793.3" cy="292.5" r="1.0" fill="#eaa9ab" fill-opacity="0.7"/><circle cx="788.3" cy="293.1" r="0.6" fill="#eaa9ab" fill-opacity="0.7"/><circle cx="776.7" cy="281.6" r="0.5" fill="#eaa9ab" fill-opacity="0.7"/><circle cx="791.0" cy="303.7" r="0.7" fill="#eaa9ab" fill-opacity="0.7"/><circle cx="773.6" cy="286.5" r="1.1" fill="#eaa9ab" fill-opacity="0.7"/><circle cx="771.1" cy="282.4" r="0.9" fill="#eaa9ab" fill-opacity="0.7"/><circle cx="791.8" cy="295.5" r="0.6" fill="#eaa9ab" fill-opacity="0.7"/><circle cx="791.7" cy="285.8" r="0.5" fill="#eaa9ab" fill-opacity="0.7"/><circle cx="798.5" cy="288.7" r="1.2" fill="#eaa9ab" fill-opacity="0.7"/><circle cx="802.0" cy="294.9" r="0.7" fill="#eaa9ab" fill-opacity="0.7"/><circle cx="797.0" cy="280.4" r="1.0" fill="#eaa9ab" fill-opacity="0.7"/><circle cx="789.6" cy="277.0" r="0.8" fill="#eaa9ab" fill-opacity="0.7"/><circle cx="775.2" cy="284.4" r="0.6" fill="#eaa9ab" fill-opacity="0.7"/><circle cx="797.5" cy="280.7" r="1.2" fill="#eaa9ab" fill-opacity="0.7"/><circle cx="792.8" cy="299.9" r="0.9" fill="#eaa9ab" fill-opacity="0.7"/><circle cx="787.1" cy="286.1" r="0.8" fill="#eaa9ab" fill-opacity="0.7"/><circle cx="781.6" cy="290.4" r="0.9" fill="#eaa9ab" fill-opacity="0.7"/><circle cx="786.6" cy="280.9" r="1.0" fill="#eaa9ab" fill-opacity="0.7"/><circle cx="779.3" cy="286.0" r="0.8" fill="#eaa9ab" fill-opacity="0.7"/><circle cx="801.9" cy="289.8" r="0.8" fill="#eaa9ab" fill-opacity="0.7"/><circle cx="797.7" cy="293.3" r="0.6" fill="#eaa9ab" fill-opacity="0.7"/><circle cx="806.6" cy="285.0" r="1.2" fill="#eaa9ab" fill-opacity="0.7"/><circle cx="806.7" cy="289.1" r="1.2" fill="#eaa9ab" fill-opacity="0.7"/><circle cx="772.9" cy="288.0" r="1.3" fill="#eaa9ab" fill-opacity="0.7"/><circle cx="807.2" cy="282.2" r="0.9" fill="#eaa9ab" fill-opacity="0.7"/><circle cx="790.2" cy="281.2" r="1.3" fill="#eaa9ab" fill-opacity="0.7"/><circle cx="799.4" cy="286.4" r="1.2" fill="#eaa9ab" fill-opacity="0.7"/><circle cx="791.0" cy="294.0" r="1.1" fill="#eaa9ab" fill-opacity="0.7"/><circle cx="783.2" cy="299.7" r="1.0" fill="#eaa9ab" fill-opacity="0.7"/><circle cx="808.0" cy="293.0" r="0.7" fill="#eaa9ab" fill-opacity="0.7"/><circle cx="775.2" cy="293.4" r="1.1" fill="#eaa9ab" fill-opacity="0.7"/><circle cx="787.7" cy="282.5" r="0.6" fill="#eaa9ab" fill-opacity="0.7"/><circle cx="783.3" cy="298.5" r="0.6" fill="#eaa9ab" fill-opacity="0.7"/><circle cx="800.0" cy="300.0" r="1.1" fill="#eaa9ab" fill-opacity="0.7"/><circle cx="811.5" cy="288.0" r="1.2" fill="#eaa9ab" fill-opacity="0.7"/><circle cx="684.6" cy="204.5" r="1.1" fill="#b04f5c" fill-opacity="0.7"/><circle cx="679.5" cy="203.0" r="1.4" fill="#b04f5c" fill-opacity="0.7"/><circle cx="681.0" cy="209.6" r="1.1" fill="#b04f5c" fill-opacity="0.7"/><circle cx="677.0" cy="203.6" r="1.7" fill="#b04f5c" fill-opacity="0.7"/><circle cx="686.3" cy="206.7" r="1.7" fill="#b04f5c" fill-opacity="0.7"/><circle cx="692.3" cy="201.3" r="1.4" fill="#b04f5c" fill-opacity="0.7"/><circle cx="683.2" cy="199.9" r="0.9" fill="#b04f5c" fill-opacity="0.7"/><circle cx="691.0" cy="211.1" r="1.3" fill="#b04f5c" fill-opacity="0.7"/><circle cx="698.5" cy="199.6" r="1.9" fill="#b04f5c" fill-opacity="0.7"/><circle cx="693.0" cy="202.1" r="0.8" fill="#b04f5c" fill-opacity="0.7"/><circle cx="681.6" cy="203.9" r="0.9" fill="#b04f5c" fill-opacity="0.7"/><circle cx="684.5" cy="200.0" r="1.1" fill="#b04f5c" fill-opacity="0.7"/><circle cx="688.2" cy="211.7" r="1.3" fill="#b04f5c" fill-opacity="0.7"/><circle cx="687.8" cy="203.5" r="1.3" fill="#b04f5c" fill-opacity="0.7"/><circle cx="681.1" cy="193.9" r="1.8" fill="#b04f5c" fill-opacity="0.7"/><circle cx="690.1" cy="195.4" r="0.9" fill="#b04f5c" fill-opacity="0.7"/><circle cx="688.6" cy="190.4" r="1.4" fill="#b04f5c" fill-opacity="0.7"/><circle cx="692.3" cy="193.2" r="1.1" fill="#b04f5c" fill-opacity="0.7"/><circle cx="688.8" cy="202.4" r="1.5" fill="#b04f5c" fill-opacity="0.7"/><circle cx="697.1" cy="194.1" r="1.3" fill="#b04f5c" fill-opacity="0.7"/><circle cx="682.1" cy="191.0" r="1.7" fill="#b04f5c" fill-opacity="0.7"/><circle cx="681.8" cy="196.4" r="1.4" fill="#b04f5c" fill-opacity="0.7"/><circle cx="690.5" cy="205.5" r="1.6" fill="#b04f5c" fill-opacity="0.7"/><circle cx="696.9" cy="200.6" r="1.2" fill="#b04f5c" fill-opacity="0.7"/><circle cx="683.2" cy="207.5" r="1.7" fill="#b04f5c" fill-opacity="0.7"/><circle cx="676.8" cy="204.5" r="1.0" fill="#b04f5c" fill-opacity="0.7"/><circle cx="684.6" cy="209.0" r="1.3" fill="#b04f5c" fill-opacity="0.7"/><circle cx="694.5" cy="192.2" r="1.8" fill="#b04f5c" fill-opacity="0.7"/><circle cx="686.4" cy="199.6" r="1.4" fill="#b04f5c" fill-opacity="0.7"/><circle cx="680.0" cy="198.4" r="1.1" fill="#b04f5c" fill-opacity="0.7"/><circle cx="685.1" cy="189.9" r="0.9" fill="#b04f5c" fill-opacity="0.7"/><circle cx="684.4" cy="194.6" r="1.4" fill="#b04f5c" fill-opacity="0.7"/><circle cx="697.3" cy="193.8" r="1.5" fill="#b04f5c" fill-opacity="0.7"/><circle cx="691.9" cy="211.8" r="1.0" fill="#b04f5c" fill-opacity="0.7"/><circle cx="679.9" cy="208.3" r="1.1" fill="#b04f5c" fill-opacity="0.7"/><circle cx="686.5" cy="212.6" r="1.8" fill="#b04f5c" fill-opacity="0.7"/><circle cx="684.9" cy="207.9" r="1.1" fill="#b04f5c" fill-opacity="0.7"/><circle cx="692.1" cy="205.4" r="1.9" fill="#b04f5c" fill-opacity="0.7"/><circle cx="693.1" cy="203.7" r="1.0" fill="#b04f5c" fill-opacity="0.7"/><circle cx="695.6" cy="205.2" r="1.6" fill="#b04f5c" fill-opacity="0.7"/><circle cx="693.0" cy="192.9" r="1.7" fill="#b04f5c" fill-opacity="0.7"/><circle cx="694.4" cy="201.2" r="1.9" fill="#b04f5c" fill-opacity="0.7"/><circle cx="693.6" cy="203.6" r="1.3" fill="#b04f5c" fill-opacity="0.7"/><circle cx="687.0" cy="209.8" r="0.9" fill="#b04f5c" fill-opacity="0.7"/><circle cx="689.0" cy="212.7" r="1.0" fill="#b04f5c" fill-opacity="0.7"/><circle cx="721.8" cy="219.6" r="1.9" fill="#b04f5c" fill-opacity="0.7"/><circle cx="716.1" cy="214.8" r="1.0" fill="#b04f5c" fill-opacity="0.7"/><circle cx="725.6" cy="224.9" r="1.0" fill="#b04f5c" fill-opacity="0.7"/><circle cx="721.7" cy="230.4" r="1.8" fill="#b04f5c" fill-opacity="0.7"/><circle cx="726.5" cy="225.0" r="1.4" fill="#b04f5c" fill-opacity="0.7"/><circle cx="717.1" cy="224.2" r="1.2" fill="#b04f5c" fill-opacity="0.7"/><circle cx="723.2" cy="221.6" r="0.9" fill="#b04f5c" fill-opacity="0.7"/><circle cx="720.7" cy="224.8" r="1.2" fill="#b04f5c" fill-opacity="0.7"/><circle cx="720.9" cy="220.6" r="1.0" fill="#b04f5c" fill-opacity="0.7"/><circle cx="726.4" cy="218.3" r="1.9" fill="#b04f5c" fill-opacity="0.7"/><circle cx="719.1" cy="228.0" r="1.8" fill="#b04f5c" fill-opacity="0.7"/><circle cx="712.3" cy="222.8" r="1.1" fill="#b04f5c" fill-opacity="0.7"/><circle cx="723.7" cy="222.8" r="1.6" fill="#b04f5c" fill-opacity="0.7"/><circle cx="720.2" cy="214.6" r="1.3" fill="#b04f5c" fill-opacity="0.7"/><circle cx="713.8" cy="220.4" r="1.4" fill="#b04f5c" fill-opacity="0.7"/><circle cx="720.8" cy="218.1" r="1.5" fill="#b04f5c" fill-opacity="0.7"/><circle cx="725.7" cy="218.2" r="1.0" fill="#b04f5c" fill-opacity="0.7"/><circle cx="726.1" cy="219.9" r="1.0" fill="#b04f5c" fill-opacity="0.7"/><circle cx="718.6" cy="226.5" r="0.9" fill="#b04f5c" fill-opacity="0.7"/><circle cx="724.1" cy="221.1" r="1.8" fill="#b04f5c" fill-opacity="0.7"/><circle cx="719.7" cy="222.8" r="1.8" fill="#b04f5c" fill-opacity="0.7"/><circle cx="721.2" cy="212.4" r="1.6" fill="#b04f5c" fill-opacity="0.7"/><circle cx="712.1" cy="220.6" r="0.9" fill="#b04f5c" fill-opacity="0.7"/><circle cx="713.9" cy="220.3" r="1.0" fill="#b04f5c" fill-opacity="0.7"/><circle cx="715.3" cy="218.6" r="1.4" fill="#b04f5c" fill-opacity="0.7"/><circle cx="715.8" cy="226.0" r="1.2" fill="#b04f5c" fill-opacity="0.7"/><circle cx="712.6" cy="216.1" r="1.8" fill="#b04f5c" fill-opacity="0.7"/><circle cx="723.7" cy="215.0" r="1.1" fill="#b04f5c" fill-opacity="0.7"/><circle cx="723.1" cy="221.2" r="0.9" fill="#b04f5c" fill-opacity="0.7"/><circle cx="712.2" cy="222.0" r="1.2" fill="#b04f5c" fill-opacity="0.7"/><circle cx="740.4" cy="204.5" r="1.8" fill="#b04f5c" fill-opacity="0.7"/><circle cx="737.7" cy="208.2" r="1.3" fill="#b04f5c" fill-opacity="0.7"/><circle cx="748.6" cy="202.8" r="1.3" fill="#b04f5c" fill-opacity="0.7"/><circle cx="737.1" cy="208.7" r="0.9" fill="#b04f5c" fill-opacity="0.7"/><circle cx="736.4" cy="209.5" r="1.6" fill="#b04f5c" fill-opacity="0.7"/><circle cx="749.9" cy="209.0" r="1.2" fill="#b04f5c" fill-opacity="0.7"/><circle cx="747.8" cy="206.6" r="1.0" fill="#b04f5c" fill-opacity="0.7"/><circle cx="735.8" cy="205.3" r="1.2" fill="#b04f5c" fill-opacity="0.7"/><circle cx="747.5" cy="203.3" r="1.2" fill="#b04f5c" fill-opacity="0.7"/><circle cx="741.2" cy="211.1" r="1.2" fill="#b04f5c" fill-opacity="0.7"/><circle cx="738.5" cy="210.5" r="1.7" fill="#b04f5c" fill-opacity="0.7"/><circle cx="740.4" cy="205.8" r="1.0" fill="#b04f5c" fill-opacity="0.7"/><circle cx="738.7" cy="210.4" r="0.9" fill="#b04f5c" fill-opacity="0.7"/><circle cx="746.9" cy="208.7" r="1.1" fill="#b04f5c" fill-opacity="0.7"/><circle cx="748.8" cy="207.8" r="1.7" fill="#b04f5c" fill-opacity="0.7"/><circle cx="736.3" cy="205.9" r="1.6" fill="#b04f5c" fill-opacity="0.7"/><circle cx="747.0" cy="202.1" r="1.2" fill="#b04f5c" fill-opacity="0.7"/><circle cx="741.9" cy="205.1" r="1.7" fill="#b04f5c" fill-opacity="0.7"/><circle cx="739.0" cy="209.9" r="1.7" fill="#b04f5c" fill-opacity="0.7"/><circle cx="742.2" cy="209.5" r="1.6" fill="#b04f5c" fill-opacity="0.7"/><circle cx="741.1" cy="206.0" r="0.8" fill="#b04f5c" fill-opacity="0.7"/><circle cx="742.6" cy="207.4" r="1.6" fill="#b04f5c" fill-opacity="0.7"/><circle cx="744.7" cy="209.9" r="1.2" fill="#b04f5c" fill-opacity="0.7"/><circle cx="737.8" cy="206.7" r="1.4" fill="#b04f5c" fill-opacity="0.7"/><circle cx="740.2" cy="203.7" r="0.9" fill="#b04f5c" fill-opacity="0.7"/><circle cx="803.5" cy="231.0" r="0.9" fill="#a94754" fill-opacity="0.7"/><circle cx="780.7" cy="234.8" r="1.9" fill="#a94754" fill-opacity="0.7"/><circle cx="793.2" cy="232.4" r="1.3" fill="#a94754" fill-opacity="0.7"/><circle cx="780.3" cy="236.0" r="1.7" fill="#a94754" fill-opacity="0.7"/><circle cx="787.6" cy="237.1" r="1.4" fill="#a94754" fill-opacity="0.7"/><circle cx="796.7" cy="229.3" r="1.2" fill="#a94754" fill-opacity="0.7"/><circle cx="801.5" cy="235.8" r="0.8" fill="#a94754" fill-opacity="0.7"/><circle cx="801.3" cy="229.4" r="1.4" fill="#a94754" fill-opacity="0.7"/><circle cx="797.8" cy="234.2" r="1.3" fill="#a94754" fill-opacity="0.7"/><circle cx="798.4" cy="226.8" r="1.1" fill="#a94754" fill-opacity="0.7"/><circle cx="803.3" cy="231.2" r="1.4" fill="#a94754" fill-opacity="0.7"/><circle cx="794.3" cy="236.7" r="1.8" fill="#a94754" fill-opacity="0.7"/><circle cx="798.9" cy="236.9" r="1.5" fill="#a94754" fill-opacity="0.7"/><circle cx="784.5" cy="238.2" r="1.8" fill="#a94754" fill-opacity="0.7"/><circle cx="799.5" cy="226.0" r="1.0" fill="#a94754" fill-opacity="0.7"/><circle cx="800.6" cy="234.2" r="1.1" fill="#a94754" fill-opacity="0.7"/><circle cx="796.5" cy="239.9" r="1.0" fill="#a94754" fill-opacity="0.7"/><circle cx="798.0" cy="224.2" r="0.9" fill="#a94754" fill-opacity="0.7"/><circle cx="799.6" cy="229.1" r="1.0" fill="#a94754" fill-opacity="0.7"/><circle cx="793.1" cy="233.6" r="1.3" fill="#a94754" fill-opacity="0.7"/><circle cx="782.3" cy="237.5" r="1.7" fill="#a94754" fill-opacity="0.7"/><circle cx="800.3" cy="234.0" r="1.2" fill="#a94754" fill-opacity="0.7"/><circle cx="795.1" cy="236.0" r="1.1" fill="#a94754" fill-opacity="0.7"/><circle cx="789.2" cy="227.1" r="0.9" fill="#a94754" fill-opacity="0.7"/><circle cx="793.7" cy="237.9" r="1.4" fill="#a94754" fill-opacity="0.7"/><circle cx="792.3" cy="239.5" r="1.0" fill="#a94754" fill-opacity="0.7"/><circle cx="786.8" cy="225.8" r="1.0" fill="#a94754" fill-opacity="0.7"/><circle cx="792.1" cy="226.3" r="1.4" fill="#a94754" fill-opacity="0.7"/><circle cx="782.9" cy="227.9" r="1.3" fill="#a94754" fill-opacity="0.7"/><circle cx="803.7" cy="234.8" r="1.7" fill="#a94754" fill-opacity="0.7"/><circle cx="781.4" cy="232.4" r="1.1" fill="#a94754" fill-opacity="0.7"/><circle cx="801.3" cy="227.6" r="1.0" fill="#a94754" fill-opacity="0.7"/><circle cx="797.7" cy="223.9" r="1.2" fill="#a94754" fill-opacity="0.7"/><circle cx="801.7" cy="231.8" r="1.0" fill="#a94754" fill-opacity="0.7"/><circle cx="790.3" cy="226.9" r="1.6" fill="#a94754" fill-opacity="0.7"/><circle cx="788.0" cy="230.5" r="1.4" fill="#a94754" fill-opacity="0.7"/><circle cx="797.7" cy="227.0" r="1.4" fill="#a94754" fill-opacity="0.7"/><circle cx="798.1" cy="227.4" r="1.3" fill="#a94754" fill-opacity="0.7"/><circle cx="781.0" cy="227.9" r="1.0" fill="#a94754" fill-opacity="0.7"/><circle cx="802.2" cy="236.4" r="1.4" fill="#a94754" fill-opacity="0.7"/><circle cx="787.7" cy="240.0" r="1.8" fill="#a94754" fill-opacity="0.7"/><circle cx="778.6" cy="229.7" r="1.7" fill="#a94754" fill-opacity="0.7"/><circle cx="791.9" cy="227.1" r="0.8" fill="#a94754" fill-opacity="0.7"/><circle cx="786.8" cy="225.0" r="1.2" fill="#a94754" fill-opacity="0.7"/><circle cx="781.6" cy="232.9" r="1.1" fill="#a94754" fill-opacity="0.7"/><circle cx="781.9" cy="286.3" r="1.2" fill="#a94754" fill-opacity="0.7"/><circle cx="795.8" cy="295.8" r="1.2" fill="#a94754" fill-opacity="0.7"/><circle cx="784.9" cy="288.7" r="1.2" fill="#a94754" fill-opacity="0.7"/><circle cx="789.6" cy="296.8" r="1.4" fill="#a94754" fill-opacity="0.7"/><circle cx="789.1" cy="293.2" r="1.3" fill="#a94754" fill-opacity="0.7"/><circle cx="789.6" cy="297.4" r="1.0" fill="#a94754" fill-opacity="0.7"/><circle cx="796.0" cy="295.5" r="1.8" fill="#a94754" fill-opacity="0.7"/><circle cx="794.3" cy="287.8" r="1.2" fill="#a94754" fill-opacity="0.7"/><circle cx="794.2" cy="293.7" r="1.1" fill="#a94754" fill-opacity="0.7"/><circle cx="791.4" cy="291.0" r="1.8" fill="#a94754" fill-opacity="0.7"/><circle cx="774.9" cy="292.8" r="1.1" fill="#a94754" fill-opacity="0.7"/><circle cx="793.1" cy="291.2" r="1.4" fill="#a94754" fill-opacity="0.7"/><circle cx="778.4" cy="291.8" r="1.0" fill="#a94754" fill-opacity="0.7"/><circle cx="801.1" cy="291.3" r="1.6" fill="#a94754" fill-opacity="0.7"/><circle cx="790.4" cy="290.6" r="1.6" fill="#a94754" fill-opacity="0.7"/><circle cx="786.0" cy="288.2" r="1.3" fill="#a94754" fill-opacity="0.7"/><circle cx="795.6" cy="291.3" r="1.6" fill="#a94754" fill-opacity="0.7"/><circle cx="793.0" cy="297.6" r="1.1" fill="#a94754" fill-opacity="0.7"/><circle cx="775.6" cy="291.7" r="1.8" fill="#a94754" fill-opacity="0.7"/><circle cx="785.6" cy="286.3" r="1.6" fill="#a94754" fill-opacity="0.7"/><circle cx="772.3" cy="295.1" r="1.1" fill="#a94754" fill-opacity="0.7"/><circle cx="773.5" cy="290.3" r="1.2" fill="#a94754" fill-opacity="0.7"/><circle cx="792.7" cy="293.0" r="1.5" fill="#a94754" fill-opacity="0.7"/><circle cx="789.6" cy="298.8" r="1.4" fill="#a94754" fill-opacity="0.7"/><circle cx="801.0" cy="289.9" r="1.6" fill="#a94754" fill-opacity="0.7"/><circle cx="783.5" cy="293.2" r="1.4" fill="#a94754" fill-opacity="0.7"/><circle cx="785.6" cy="284.3" r="1.0" fill="#a94754" fill-opacity="0.7"/><circle cx="795.2" cy="298.6" r="1.6" fill="#a94754" fill-opacity="0.7"/><circle cx="771.5" cy="292.7" r="1.0" fill="#a94754" fill-opacity="0.7"/><circle cx="772.6" cy="290.2" r="1.5" fill="#a94754" fill-opacity="0.7"/><circle cx="789.3" cy="294.5" r="1.5" fill="#a94754" fill-opacity="0.7"/><circle cx="790.7" cy="290.0" r="0.8" fill="#a94754" fill-opacity="0.7"/><circle cx="799.1" cy="295.5" r="1.2" fill="#a94754" fill-opacity="0.7"/><circle cx="769.7" cy="294.2" r="1.5" fill="#a94754" fill-opacity="0.7"/><circle cx="784.8" cy="298.7" r="0.8" fill="#a94754" fill-opacity="0.7"/><circle cx="783.2" cy="298.6" r="1.0" fill="#a94754" fill-opacity="0.7"/><circle cx="798.0" cy="293.2" r="1.2" fill="#a94754" fill-opacity="0.7"/><circle cx="791.3" cy="291.5" r="1.7" fill="#a94754" fill-opacity="0.7"/><circle cx="774.3" cy="296.6" r="1.3" fill="#a94754" fill-opacity="0.7"/><circle cx="781.2" cy="288.0" r="1.0" fill="#a94754" fill-opacity="0.7"/><circle cx="771.5" cy="294.1" r="1.2" fill="#a94754" fill-opacity="0.7"/><circle cx="787.4" cy="297.1" r="0.9" fill="#a94754" fill-opacity="0.7"/><circle cx="780.8" cy="297.5" r="1.4" fill="#a94754" fill-opacity="0.7"/><circle cx="778.5" cy="289.5" r="0.8" fill="#a94754" fill-opacity="0.7"/><circle cx="795.8" cy="292.8" r="1.0" fill="#a94754" fill-opacity="0.7"/><ellipse cx="715" cy="196" rx="7" ry="3" transform="rotate(10 715 196)" fill="#b2505d" fill-opacity="0.75"/><ellipse cx="742" cy="223" rx="7" ry="3" transform="rotate(-20 742 223)" fill="#b2505d" fill-opacity="0.75"/><ellipse cx="686" cy="245" rx="18" ry="4" transform="rotate(15 686 245)" fill="#b2505d" fill-opacity="0.75"/><ellipse cx="718" cy="254" rx="15" ry="4" transform="rotate(-15 718 254)" fill="#b2505d" fill-opacity="0.75"/><ellipse cx="789" cy="207" rx="5" ry="3" transform="rotate(30 789 207)" fill="#b2505d" fill-opacity="0.75"/><ellipse cx="807" cy="275" rx="6" ry="2.5" transform="rotate(10 807 275)" fill="#b2505d" fill-opacity="0.75"/></g><g style="isolation:isolate"><circle cx="494.6" cy="383.5" r="68" fill="#eef1f6" style="mix-blend-mode:multiply"/><circle cx="623.5" cy="383.5" r="68" fill="#eef0ed" style="mix-blend-mode:multiply"/><circle cx="559" cy="282" r="68" fill="#fbe9eb" style="mix-blend-mode:multiply"/></g><path d="M550.5,240.0 Q556.9,234.8 565.0,233.0 Q555.6,232.2 550.5,240.0 Z" fill="#e8b6ba" stroke="#c98890" stroke-width="0.8"/><path d="M520.7,249.5 Q533.2,244.0 544.0,250.0 Q533.3,238.5 520.7,249.5 Z" fill="#e8b6ba" stroke="#c98890" stroke-width="0.8"/><ellipse cx="532.8" cy="245.5" rx="2.5" ry="1.3" fill="#d38f98" transform="rotate(1.2 532.8 245.5)"/><path d="M515.9,274.5 Q547.3,258.2 577.1,284.5 Q548.9,248.8 515.9,274.5 Z" fill="#e8b6ba" stroke="#c98890" stroke-width="0.8"/><ellipse cx="547.3" cy="266.5" rx="4.3" ry="2.2" fill="#d38f98" transform="rotate(9.3 547.3 266.5)"/><path d="M567.4,261.0 Q583.4,259.0 599.6,279.0 Q586.8,253.0 567.4,261.0 Z" fill="#e8b6ba" stroke="#c98890" stroke-width="0.8"/><ellipse cx="584.3" cy="263.0" rx="3.1" ry="1.5" fill="#d38f98" transform="rotate(29.2 584.3 263.0)"/><path d="M498.2,297.0 Q515.5,283.6 538.4,293.0 Q514.7,276.4 498.2,297.0 Z" fill="#e8b6ba" stroke="#c98890" stroke-width="0.8"/><ellipse cx="516.7" cy="287.5" rx="3.2" ry="1.6" fill="#d38f98" transform="rotate(-5.7 516.7 287.5)"/><path d="M539.2,305.0 Q568.9,287.8 601.2,311.0 Q569.9,278.2 539.2,305.0 Z" fill="#e8b6ba" stroke="#c98890" stroke-width="0.8"/><ellipse cx="569.8" cy="295.5" rx="4.3" ry="2.2" fill="#d38f98" transform="rotate(5.5 569.8 295.5)"/><text x="577.4" y="243.5" font-size="25" fill="#c9979c" textLength="49.6" lengthAdjust="spacingAndGlyphs">LECs</text><g><path d="M484.67,349.11 L490.27,349.54 L490.47,348.46 L485.08,346.86 Z" fill="#8099c0"/><circle cx="490.37" cy="349.00" r="0.55" fill="#8099c0"/><path d="M483.93,350.00 L487.48,351.35 L488.03,350.39 L485.07,348.02 Z" fill="#8099c0"/><circle cx="487.76" cy="350.87" r="0.55" fill="#8099c0"/><path d="M480.69,350.67 L481.49,355.78 L482.59,355.73 L482.97,350.58 Z" fill="#8099c0"/><circle cx="482.04" cy="355.76" r="0.55" fill="#8099c0"/><path d="M478.95,349.45 L477.08,353.28 L478.00,353.90 L480.85,350.72 Z" fill="#8099c0"/><circle cx="477.54" cy="353.59" r="0.55" fill="#8099c0"/><path d="M478.28,347.29 L473.82,349.32 L474.15,350.37 L478.96,349.46 Z" fill="#8099c0"/><circle cx="473.99" cy="349.84" r="0.55" fill="#8099c0"/><path d="M479.13,345.14 L475.28,344.23 L474.87,345.26 L478.28,347.26 Z" fill="#8099c0"/><circle cx="475.08" cy="344.74" r="0.55" fill="#8099c0"/><path d="M480.98,344.05 L478.17,340.61 L477.23,341.18 L479.04,345.25 Z" fill="#8099c0"/><circle cx="477.70" cy="340.90" r="0.55" fill="#8099c0"/><path d="M483.64,344.58 L484.56,338.94 L483.49,338.65 L481.44,343.98 Z" fill="#8099c0"/><circle cx="484.02" cy="338.79" r="0.55" fill="#8099c0"/><path d="M485.07,346.79 L488.88,343.94 L488.34,342.98 L483.94,344.81 Z" fill="#8099c0"/><circle cx="488.61" cy="343.46" r="0.55" fill="#8099c0"/><circle cx="481.7" cy="347.4" r="3.8" fill="#8099c0"/><circle cx="481.7" cy="347.4" r="1.8" fill="#1f4f87"/></g><g><path d="M506.96,338.95 L510.60,338.16 L510.50,337.17 L506.77,337.16 Z" fill="#8099c0"/><circle cx="510.55" cy="337.66" r="0.50" fill="#8099c0"/><path d="M505.86,340.45 L509.13,342.42 L509.74,341.62 L506.94,339.01 Z" fill="#8099c0"/><circle cx="509.44" cy="342.02" r="0.50" fill="#8099c0"/><path d="M503.90,340.77 L504.66,343.63 L505.65,343.50 L505.69,340.55 Z" fill="#8099c0"/><circle cx="505.16" cy="343.57" r="0.50" fill="#8099c0"/><path d="M502.88,340.26 L501.91,344.35 L502.85,344.67 L504.58,340.84 Z" fill="#8099c0"/><circle cx="502.38" cy="344.51" r="0.50" fill="#8099c0"/><path d="M501.96,338.51 L499.25,340.25 L499.68,341.16 L502.74,340.14 Z" fill="#8099c0"/><circle cx="499.46" cy="340.70" r="0.50" fill="#8099c0"/><path d="M502.94,336.29 L499.67,334.77 L499.15,335.62 L502.00,337.83 Z" fill="#8099c0"/><circle cx="499.41" cy="335.20" r="0.50" fill="#8099c0"/><path d="M504.43,335.76 L502.70,332.58 L501.77,332.96 L502.76,336.44 Z" fill="#8099c0"/><circle cx="502.23" cy="332.77" r="0.50" fill="#8099c0"/><path d="M505.92,336.19 L506.23,333.11 L505.26,332.88 L504.17,335.78 Z" fill="#8099c0"/><circle cx="505.74" cy="333.00" r="0.50" fill="#8099c0"/><path d="M506.94,337.59 L510.09,334.73 L509.49,333.93 L505.86,336.15 Z" fill="#8099c0"/><circle cx="509.79" cy="334.33" r="0.50" fill="#8099c0"/><circle cx="504.5" cy="338.3" r="2.8" fill="#8099c0"/><circle cx="504.5" cy="338.3" r="1.4" fill="#1f4f87"/></g><g><path d="M499.82,371.35 L504.52,369.94 L504.36,368.46 L499.48,368.07 Z" fill="#8099c0"/><circle cx="504.44" cy="369.20" r="0.75" fill="#8099c0"/><path d="M497.98,374.16 L502.62,376.16 L503.45,374.92 L499.81,371.41 Z" fill="#8099c0"/><circle cx="503.03" cy="375.54" r="0.75" fill="#8099c0"/><path d="M495.73,375.10 L499.19,379.70 L500.51,379.00 L498.65,373.56 Z" fill="#8099c0"/><circle cx="499.85" cy="379.35" r="0.75" fill="#8099c0"/><path d="M491.37,373.58 L489.01,380.05 L490.34,380.74 L494.30,375.11 Z" fill="#8099c0"/><circle cx="489.68" cy="380.39" r="0.75" fill="#8099c0"/><path d="M490.13,371.10 L486.10,374.46 L486.85,375.76 L491.77,373.96 Z" fill="#8099c0"/><circle cx="486.47" cy="375.11" r="0.75" fill="#8099c0"/><path d="M490.35,368.48 L485.02,369.31 L484.99,370.80 L490.30,371.78 Z" fill="#8099c0"/><circle cx="485.01" cy="370.05" r="0.75" fill="#8099c0"/><path d="M491.68,366.52 L487.00,365.01 L486.29,366.32 L490.10,369.42 Z" fill="#8099c0"/><circle cx="486.65" cy="365.66" r="0.75" fill="#8099c0"/><path d="M494.56,365.26 L490.75,359.10 L489.39,359.72 L491.56,366.63 Z" fill="#8099c0"/><circle cx="490.07" cy="359.41" r="0.75" fill="#8099c0"/><path d="M498.50,366.69 L500.64,360.13 L499.29,359.48 L495.53,365.27 Z" fill="#8099c0"/><circle cx="499.97" cy="359.81" r="0.75" fill="#8099c0"/><path d="M499.89,369.37 L503.89,366.11 L503.16,364.80 L498.28,366.48 Z" fill="#8099c0"/><circle cx="503.52" cy="365.45" r="0.75" fill="#8099c0"/><circle cx="495" cy="370.2" r="5.5" fill="#8099c0"/><circle cx="495" cy="370.2" r="3.74" fill="#a9c1e0"/><circle cx="498.41" cy="370.20" r="0.39" fill="#eef3fa"/><circle cx="498.15" cy="371.50" r="0.39" fill="#eef3fa"/><circle cx="497.41" cy="372.61" r="0.39" fill="#eef3fa"/><circle cx="496.30" cy="373.35" r="0.39" fill="#eef3fa"/><circle cx="495.00" cy="373.61" r="0.39" fill="#eef3fa"/><circle cx="493.70" cy="373.35" r="0.39" fill="#eef3fa"/><circle cx="492.59" cy="372.61" r="0.39" fill="#eef3fa"/><circle cx="491.85" cy="371.50" r="0.39" fill="#eef3fa"/><circle cx="491.59" cy="370.20" r="0.39" fill="#eef3fa"/><circle cx="491.85" cy="368.90" r="0.39" fill="#eef3fa"/><circle cx="492.59" cy="367.79" r="0.39" fill="#eef3fa"/><circle cx="493.70" cy="367.05" r="0.39" fill="#eef3fa"/><circle cx="495.00" cy="366.79" r="0.39" fill="#eef3fa"/><circle cx="496.30" cy="367.05" r="0.39" fill="#eef3fa"/><circle cx="497.41" cy="367.79" r="0.39" fill="#eef3fa"/><circle cx="498.15" cy="368.90" r="0.39" fill="#eef3fa"/><circle cx="495" cy="370.2" r="2.6" fill="#1f4f87"/></g><g><path d="M467.92,384.72 L475.74,384.03 L475.83,382.28 L468.11,380.82 Z" fill="#8099c0"/><circle cx="475.79" cy="383.15" r="0.88" fill="#8099c0"/><path d="M465.23,387.68 L472.17,392.64 L473.36,391.35 L467.88,384.82 Z" fill="#8099c0"/><circle cx="472.76" cy="391.99" r="0.88" fill="#8099c0"/><path d="M461.79,388.32 L464.66,396.27 L466.37,395.89 L465.60,387.47 Z" fill="#8099c0"/><circle cx="465.51" cy="396.08" r="0.88" fill="#8099c0"/><path d="M459.87,387.74 L460.08,394.66 L461.82,394.88 L463.74,388.23 Z" fill="#8099c0"/><circle cx="460.95" cy="394.77" r="0.88" fill="#8099c0"/><path d="M456.68,383.15 L450.43,387.37 L451.19,388.95 L458.38,386.66 Z" fill="#8099c0"/><circle cx="450.81" cy="388.16" r="0.88" fill="#8099c0"/><path d="M457.36,379.69 L451.60,379.85 L451.32,381.58 L456.73,383.54 Z" fill="#8099c0"/><circle cx="451.46" cy="380.71" r="0.88" fill="#8099c0"/><path d="M459.12,377.72 L453.51,375.06 L452.50,376.50 L456.86,380.90 Z" fill="#8099c0"/><circle cx="453.01" cy="375.78" r="0.88" fill="#8099c0"/><path d="M462.75,376.65 L459.62,370.06 L457.94,370.58 L459.02,377.79 Z" fill="#8099c0"/><circle cx="458.78" cy="370.32" r="0.88" fill="#8099c0"/><path d="M465.09,377.25 L464.74,371.16 L463.00,370.95 L461.22,376.78 Z" fill="#8099c0"/><circle cx="463.87" cy="371.05" r="0.88" fill="#8099c0"/><path d="M467.95,380.34 L473.55,374.04 L472.40,372.71 L465.39,377.40 Z" fill="#8099c0"/><circle cx="472.98" cy="373.38" r="0.88" fill="#8099c0"/><circle cx="462.5" cy="382.5" r="6.5" fill="#8099c0"/><circle cx="462.5" cy="382.5" r="4.42" fill="#a9c1e0"/><circle cx="466.53" cy="382.50" r="0.46" fill="#eef3fa"/><circle cx="466.22" cy="384.04" r="0.46" fill="#eef3fa"/><circle cx="465.35" cy="385.35" r="0.46" fill="#eef3fa"/><circle cx="464.04" cy="386.22" r="0.46" fill="#eef3fa"/><circle cx="462.50" cy="386.53" r="0.46" fill="#eef3fa"/><circle cx="460.96" cy="386.22" r="0.46" fill="#eef3fa"/><circle cx="459.65" cy="385.35" r="0.46" fill="#eef3fa"/><circle cx="458.78" cy="384.04" r="0.46" fill="#eef3fa"/><circle cx="458.47" cy="382.50" r="0.46" fill="#eef3fa"/><circle cx="458.78" cy="380.96" r="0.46" fill="#eef3fa"/><circle cx="459.65" cy="379.65" r="0.46" fill="#eef3fa"/><circle cx="460.96" cy="378.78" r="0.46" fill="#eef3fa"/><circle cx="462.50" cy="378.47" r="0.46" fill="#eef3fa"/><circle cx="464.04" cy="378.78" r="0.46" fill="#eef3fa"/><circle cx="465.35" cy="379.65" r="0.46" fill="#eef3fa"/><circle cx="466.22" cy="380.96" r="0.46" fill="#eef3fa"/><circle cx="462.5" cy="382.5" r="3" fill="#1f4f87"/></g><g><path d="M507.09,409.07 L516.44,408.18 L516.71,405.86 L507.83,402.82 Z" fill="#8099c0"/><circle cx="516.57" cy="407.02" r="1.17" fill="#8099c0"/><path d="M504.45,412.34 L511.13,414.23 L512.38,412.26 L507.82,407.02 Z" fill="#8099c0"/><circle cx="511.75" cy="413.24" r="1.17" fill="#8099c0"/><path d="M501.30,413.97 L507.87,419.65 L509.76,418.28 L506.39,410.27 Z" fill="#8099c0"/><circle cx="508.82" cy="418.96" r="1.17" fill="#8099c0"/><path d="M494.31,413.34 L495.11,422.41 L497.43,422.72 L500.56,414.16 Z" fill="#8099c0"/><circle cx="496.27" cy="422.57" r="1.17" fill="#8099c0"/><path d="M490.62,409.99 L486.68,418.26 L488.52,419.70 L495.59,413.87 Z" fill="#8099c0"/><circle cx="487.60" cy="418.98" r="1.17" fill="#8099c0"/><path d="M489.14,405.25 L481.42,410.43 L482.28,412.61 L491.46,411.11 Z" fill="#8099c0"/><circle cx="481.85" cy="411.52" r="1.17" fill="#8099c0"/><path d="M491.46,398.68 L483.91,397.82 L483.05,399.99 L489.14,404.54 Z" fill="#8099c0"/><circle cx="483.48" cy="398.91" r="1.17" fill="#8099c0"/><path d="M495.27,396.04 L488.26,390.77 L486.47,392.28 L490.45,400.09 Z" fill="#8099c0"/><circle cx="487.36" cy="391.52" r="1.17" fill="#8099c0"/><path d="M499.30,395.46 L495.30,388.29 L493.04,388.91 L493.22,397.11 Z" fill="#8099c0"/><circle cx="494.17" cy="388.60" r="1.17" fill="#8099c0"/><path d="M505.95,398.94 L507.75,392.22 L505.76,391.00 L500.58,395.65 Z" fill="#8099c0"/><circle cx="506.76" cy="391.61" r="1.17" fill="#8099c0"/><path d="M508.01,403.86 L514.85,398.35 L513.84,396.24 L505.27,398.18 Z" fill="#8099c0"/><circle cx="514.35" cy="397.30" r="1.17" fill="#8099c0"/><circle cx="498.6" cy="404.9" r="10.5" fill="#8099c0"/><circle cx="498.6" cy="404.9" r="7.14" fill="#a9c1e0"/><circle cx="505.11" cy="404.90" r="0.74" fill="#eef3fa"/><circle cx="504.61" cy="407.39" r="0.74" fill="#eef3fa"/><circle cx="503.20" cy="409.50" r="0.74" fill="#eef3fa"/><circle cx="501.09" cy="410.91" r="0.74" fill="#eef3fa"/><circle cx="498.60" cy="411.41" r="0.74" fill="#eef3fa"/><circle cx="496.11" cy="410.91" r="0.74" fill="#eef3fa"/><circle cx="494.00" cy="409.50" r="0.74" fill="#eef3fa"/><circle cx="492.59" cy="407.39" r="0.74" fill="#eef3fa"/><circle cx="492.09" cy="404.90" r="0.74" fill="#eef3fa"/><circle cx="492.59" cy="402.41" r="0.74" fill="#eef3fa"/><circle cx="494.00" cy="400.30" r="0.74" fill="#eef3fa"/><circle cx="496.11" cy="398.89" r="0.74" fill="#eef3fa"/><circle cx="498.60" cy="398.39" r="0.74" fill="#eef3fa"/><circle cx="501.09" cy="398.89" r="0.74" fill="#eef3fa"/><circle cx="503.20" cy="400.30" r="0.74" fill="#eef3fa"/><circle cx="504.61" cy="402.41" r="0.74" fill="#eef3fa"/><circle cx="498.6" cy="404.9" r="3.6" fill="#1f4f87"/></g><g><path d="M460.82,431.65 L468.38,429.61 L468.21,427.23 L460.44,426.27 Z" fill="#8099c0"/><circle cx="468.29" cy="428.42" r="1.19" fill="#8099c0"/><path d="M457.58,436.20 L464.38,439.30 L465.79,437.38 L460.77,431.84 Z" fill="#8099c0"/><circle cx="465.08" cy="438.34" r="1.19" fill="#8099c0"/><path d="M453.61,437.59 L458.47,444.91 L460.65,443.96 L458.55,435.42 Z" fill="#8099c0"/><circle cx="459.56" cy="444.43" r="1.19" fill="#8099c0"/><path d="M450.56,437.24 L452.39,446.49 L454.77,446.41 L455.96,437.05 Z" fill="#8099c0"/><circle cx="453.58" cy="446.45" r="1.19" fill="#8099c0"/><path d="M446.81,434.74 L443.58,443.25 L445.64,444.45 L451.47,437.47 Z" fill="#8099c0"/><circle cx="444.61" cy="443.85" r="1.19" fill="#8099c0"/><path d="M444.94,430.46 L438.97,435.08 L440.02,437.22 L447.33,435.30 Z" fill="#8099c0"/><circle cx="439.49" cy="436.15" r="1.19" fill="#8099c0"/><path d="M446.28,424.95 L435.48,423.69 L434.87,426.00 L444.92,430.18 Z" fill="#8099c0"/><circle cx="435.17" cy="424.85" r="1.19" fill="#8099c0"/><path d="M448.93,422.48 L441.86,418.43 L440.31,420.24 L445.43,426.59 Z" fill="#8099c0"/><circle cx="441.09" cy="419.34" r="1.19" fill="#8099c0"/><path d="M454.99,421.63 L452.44,410.50 L450.08,410.71 L449.61,422.13 Z" fill="#8099c0"/><circle cx="451.26" cy="410.60" r="1.19" fill="#8099c0"/><path d="M458.81,423.84 L461.36,415.28 L459.23,414.22 L453.97,421.45 Z" fill="#8099c0"/><circle cx="460.29" cy="414.75" r="1.19" fill="#8099c0"/><path d="M461.11,429.16 L467.23,425.09 L466.35,422.88 L459.10,424.15 Z" fill="#8099c0"/><circle cx="466.79" cy="423.98" r="1.19" fill="#8099c0"/><circle cx="453" cy="429.5" r="9" fill="#8099c0"/><circle cx="453" cy="429.5" r="6.12" fill="#a9c1e0"/><circle cx="458.58" cy="429.50" r="0.63" fill="#eef3fa"/><circle cx="458.16" cy="431.64" r="0.63" fill="#eef3fa"/><circle cx="456.95" cy="433.45" r="0.63" fill="#eef3fa"/><circle cx="455.14" cy="434.66" r="0.63" fill="#eef3fa"/><circle cx="453.00" cy="435.08" r="0.63" fill="#eef3fa"/><circle cx="450.86" cy="434.66" r="0.63" fill="#eef3fa"/><circle cx="449.05" cy="433.45" r="0.63" fill="#eef3fa"/><circle cx="447.84" cy="431.64" r="0.63" fill="#eef3fa"/><circle cx="447.42" cy="429.50" r="0.63" fill="#eef3fa"/><circle cx="447.84" cy="427.36" r="0.63" fill="#eef3fa"/><circle cx="449.05" cy="425.55" r="0.63" fill="#eef3fa"/><circle cx="450.86" cy="424.34" r="0.63" fill="#eef3fa"/><circle cx="453.00" cy="423.92" r="0.63" fill="#eef3fa"/><circle cx="455.14" cy="424.34" r="0.63" fill="#eef3fa"/><circle cx="456.95" cy="425.55" r="0.63" fill="#eef3fa"/><circle cx="458.16" cy="427.36" r="0.63" fill="#eef3fa"/><circle cx="453" cy="429.5" r="3.8" fill="#1f4f87"/></g><g><path d="M415.00,471.15 L427.93,468.32 L427.65,465.74 L414.41,465.78 Z" fill="#8099c0"/><circle cx="427.79" cy="467.03" r="1.30" fill="#8099c0"/><path d="M412.97,474.89 L424.38,478.48 L425.45,476.11 L415.18,469.97 Z" fill="#8099c0"/><circle cx="424.91" cy="477.29" r="1.30" fill="#8099c0"/><path d="M409.15,477.15 L415.67,484.31 L417.83,482.85 L413.62,474.13 Z" fill="#8099c0"/><circle cx="416.75" cy="483.58" r="1.30" fill="#8099c0"/><path d="M401.99,475.60 L400.15,484.92 L402.60,485.79 L407.07,477.41 Z" fill="#8099c0"/><circle cx="401.38" cy="485.36" r="1.30" fill="#8099c0"/><path d="M399.83,472.91 L393.42,481.52 L395.29,483.33 L403.71,476.67 Z" fill="#8099c0"/><circle cx="394.35" cy="482.43" r="1.30" fill="#8099c0"/><path d="M398.99,469.02 L389.08,473.60 L389.86,476.08 L400.61,474.17 Z" fill="#8099c0"/><circle cx="389.47" cy="474.84" r="1.30" fill="#8099c0"/><path d="M399.99,465.40 L387.42,464.76 L387.00,467.32 L399.11,470.73 Z" fill="#8099c0"/><circle cx="387.21" cy="466.04" r="1.30" fill="#8099c0"/><path d="M402.94,462.34 L394.72,457.33 L393.06,459.34 L399.49,466.49 Z" fill="#8099c0"/><circle cx="393.89" cy="458.34" r="1.30" fill="#8099c0"/><path d="M407.14,461.19 L402.63,452.50 L400.18,453.36 L402.04,462.96 Z" fill="#8099c0"/><circle cx="401.40" cy="452.93" r="1.30" fill="#8099c0"/><path d="M412.51,463.26 L416.13,450.84 L413.72,449.85 L407.52,461.20 Z" fill="#8099c0"/><circle cx="414.93" cy="450.34" r="1.30" fill="#8099c0"/><path d="M414.90,467.06 L421.34,460.74 L419.83,458.62 L411.76,462.66 Z" fill="#8099c0"/><circle cx="420.59" cy="459.68" r="1.30" fill="#8099c0"/><circle cx="407.1" cy="469.3" r="9" fill="#8099c0"/><circle cx="407.1" cy="469.3" r="6.12" fill="#a9c1e0"/><circle cx="412.68" cy="469.30" r="0.63" fill="#eef3fa"/><circle cx="412.26" cy="471.44" r="0.63" fill="#eef3fa"/><circle cx="411.05" cy="473.25" r="0.63" fill="#eef3fa"/><circle cx="409.24" cy="474.46" r="0.63" fill="#eef3fa"/><circle cx="407.10" cy="474.88" r="0.63" fill="#eef3fa"/><circle cx="404.96" cy="474.46" r="0.63" fill="#eef3fa"/><circle cx="403.15" cy="473.25" r="0.63" fill="#eef3fa"/><circle cx="401.94" cy="471.44" r="0.63" fill="#eef3fa"/><circle cx="401.52" cy="469.30" r="0.63" fill="#eef3fa"/><circle cx="401.94" cy="467.16" r="0.63" fill="#eef3fa"/><circle cx="403.15" cy="465.35" r="0.63" fill="#eef3fa"/><circle cx="404.96" cy="464.14" r="0.63" fill="#eef3fa"/><circle cx="407.10" cy="463.72" r="0.63" fill="#eef3fa"/><circle cx="409.24" cy="464.14" r="0.63" fill="#eef3fa"/><circle cx="411.05" cy="465.35" r="0.63" fill="#eef3fa"/><circle cx="412.26" cy="467.16" r="0.63" fill="#eef3fa"/><circle cx="407.1" cy="469.3" r="5" fill="#1f4f87"/></g><path d="M551.1,444.1 C550.5,444.5 549.7,444.8 549.2,445.2 C548.8,445.5 548.7,445.8 548.6,446.2 C548.4,446.5 548.4,446.8 548.4,447.2 C548.3,447.5 548.1,447.8 548.2,448.2 C548.3,448.6 548.6,449.1 548.9,449.6 C549.3,450.1 550.1,450.9 550.3,451.5 C550.6,452.0 550.7,452.6 550.4,452.9 C550.1,453.2 549.1,453.2 548.4,453.2 C547.7,453.3 546.8,453.1 546.3,453.1 C545.7,453.2 545.5,453.4 545.2,453.6 C544.9,453.8 544.7,454.1 544.5,454.4 C544.2,454.6 543.9,454.8 543.8,455.2 C543.6,455.5 543.6,456.0 543.6,456.7 C543.6,457.3 543.9,458.4 543.8,459.0 C543.7,459.6 543.5,460.2 543.0,460.3 C542.6,460.4 541.8,459.8 541.2,459.4 C540.6,459.1 540.0,458.5 539.5,458.2 C539.0,458.0 538.7,458.0 538.3,458.0 C537.9,458.0 537.6,458.2 537.3,458.3 C536.9,458.4 536.6,458.3 536.3,458.6 C536.0,458.8 535.7,459.2 535.3,459.8 C535.0,460.3 534.6,461.4 534.2,461.8 C533.8,462.3 533.3,462.7 532.9,462.5 C532.5,462.3 532.1,461.4 531.8,460.8 C531.5,460.2 531.3,459.3 531.0,458.8 C530.7,458.4 530.4,458.2 530.1,458.0 C529.8,457.8 529.5,457.8 529.1,457.7 C528.8,457.6 528.5,457.4 528.1,457.4 C527.7,457.4 527.2,457.6 526.7,457.9 C526.1,458.2 525.2,458.9 524.6,459.0 C524.0,459.2 523.4,459.2 523.2,458.9 C522.9,458.5 523.1,457.5 523.2,456.9 C523.2,456.2 523.5,455.3 523.5,454.8 C523.6,454.2 523.4,453.9 523.2,453.6 C523.1,453.3 522.8,453.1 522.6,452.8 C522.4,452.5 522.3,452.2 521.9,452.0 C521.5,451.8 521.0,451.7 520.4,451.6 C519.8,451.5 518.6,451.7 518.1,451.5 C517.5,451.3 516.9,451.0 516.9,450.5 C516.9,450.1 517.6,449.4 518.0,448.9 C518.4,448.3 519.2,447.8 519.5,447.3 C519.8,446.9 519.8,446.5 519.8,446.2 C519.9,445.8 519.8,445.5 519.7,445.1 C519.7,444.8 519.8,444.5 519.6,444.1 C519.4,443.7 519.0,443.4 518.5,443.0 C518.0,442.6 517.0,442.0 516.6,441.6 C516.3,441.1 516.0,440.6 516.2,440.2 C516.4,439.8 517.4,439.6 518.0,439.3 C518.7,439.1 519.6,439.0 520.1,438.8 C520.6,438.6 520.8,438.3 521.0,438.1 C521.2,437.8 521.3,437.5 521.5,437.2 C521.6,436.8 521.9,436.6 521.9,436.2 C521.9,435.8 521.8,435.3 521.6,434.7 C521.4,434.1 520.9,433.1 520.8,432.5 C520.7,431.9 520.8,431.3 521.2,431.1 C521.6,430.9 522.5,431.2 523.2,431.3 C523.8,431.5 524.6,431.9 525.2,432.0 C525.7,432.1 526.0,432.0 526.3,431.9 C526.7,431.8 527.0,431.6 527.3,431.4 C527.5,431.2 527.9,431.1 528.1,430.8 C528.4,430.5 528.5,430.0 528.7,429.4 C528.9,428.7 528.9,427.6 529.2,427.1 C529.5,426.5 529.8,426.0 530.3,426.1 C530.7,426.1 531.3,426.9 531.8,427.4 C532.3,427.9 532.7,428.7 533.1,429.1 C533.5,429.4 533.8,429.5 534.2,429.6 C534.6,429.7 534.9,429.6 535.2,429.6 C535.6,429.6 535.9,429.8 536.3,429.6 C536.7,429.5 537.1,429.2 537.5,428.7 C538.0,428.3 538.7,427.4 539.2,427.1 C539.7,426.8 540.3,426.5 540.6,426.8 C541.0,427.1 541.1,428.1 541.2,428.8 C541.3,429.4 541.3,430.3 541.4,430.9 C541.6,431.4 541.8,431.6 542.1,431.9 C542.3,432.2 542.6,432.3 542.9,432.5 C543.2,432.7 543.4,433.0 543.8,433.0 C544.2,433.1 544.7,433.1 545.3,433.0 C546.0,432.9 547.0,432.5 547.6,432.5 C548.2,432.5 548.8,432.6 549.0,433.1 C549.1,433.5 548.6,434.3 548.4,435.0 C548.1,435.6 547.6,436.4 547.4,436.9 C547.3,437.4 547.3,437.7 547.4,438.1 C547.5,438.4 547.6,438.7 547.8,439.0 C547.9,439.4 547.9,439.7 548.2,440.0 C548.5,440.3 549.0,440.5 549.6,440.8 C550.2,441.0 551.3,441.2 551.8,441.6 C552.3,441.9 552.7,442.4 552.6,442.8 C552.5,443.2 551.6,443.7 551.1,444.1 Z" fill="#7f92b2"/><circle cx="534.2" cy="444.1" r="10.4" fill="none" stroke="#6c7e9c" stroke-width="1.9" stroke-dasharray="7.2 2.9"/><circle cx="534.2" cy="444.1" r="7.5" fill="none" stroke="#73859f" stroke-width="1.2" stroke-dasharray="5.1 3.6"/><circle cx="534.2" cy="444.1" r="6.2" fill="#9fb0c8"/><circle cx="534.2" cy="444.1" r="4.8" fill="#27446b"/><text x="382.4" y="393" font-size="24.3" fill="#6b8db8" textLength="54.5" lengthAdjust="spacingAndGlyphs">HSCs</text><g transform="translate(616.3,343.1) rotate(-20) scale(0.42,0.42)"><line x1="-9" y1="-3" x2="-17" y2="-10" stroke="#7fa391" stroke-width="2.6" stroke-linecap="round"/><line x1="-3" y1="-6" x2="-5" y2="-13" stroke="#7fa391" stroke-width="2.6" stroke-linecap="round"/><line x1="11" y1="-5" x2="13" y2="-10" stroke="#7fa391" stroke-width="2.6" stroke-linecap="round"/><line x1="18" y1="-1" x2="24" y2="-3" stroke="#7fa391" stroke-width="2.6" stroke-linecap="round"/><line x1="18" y1="4" x2="23" y2="6.5" stroke="#7fa391" stroke-width="2.6" stroke-linecap="round"/><line x1="2" y1="8" x2="1" y2="13.5" stroke="#7fa391" stroke-width="2.6" stroke-linecap="round"/><line x1="-13" y1="4" x2="-25" y2="0" stroke="#7fa391" stroke-width="2.6" stroke-linecap="round"/><path d="M-8,5 Q-18,6 -27,13" stroke="#78ab8c" stroke-width="3.2" fill="none" stroke-linecap="round"/><path d="M-14.0,6.0 C-14.8,4.4 -10.8,1.0 -9.0,-1.0 C-7.2,-3.0 -5.3,-4.9 -3.0,-6.0 C-0.7,-7.1 2.3,-7.6 5.0,-7.5 C7.7,-7.4 10.7,-6.4 13.0,-5.5 C15.3,-4.6 17.6,-3.4 19.0,-2.0 C20.4,-0.6 22.0,1.4 21.5,3.0 C21.0,4.6 18.6,6.5 16.0,7.5 C13.4,8.5 9.3,8.8 6.0,9.0 C2.7,9.2 -0.7,9.0 -4.0,8.5 C-7.3,8.0 -13.2,7.6 -14.0,6.0 Z" fill="#78ab8c"/><ellipse cx="1" cy="0" rx="6.5" ry="3.8" fill="#26724a"/></g><g transform="translate(647,352.2) rotate(5) scale(0.42,0.42)"><line x1="-9" y1="-3" x2="-17" y2="-10" stroke="#7fa391" stroke-width="2.6" stroke-linecap="round"/><line x1="-3" y1="-6" x2="-5" y2="-13" stroke="#7fa391" stroke-width="2.6" stroke-linecap="round"/><line x1="11" y1="-5" x2="13" y2="-10" stroke="#7fa391" stroke-width="2.6" stroke-linecap="round"/><line x1="18" y1="-1" x2="24" y2="-3" stroke="#7fa391" stroke-width="2.6" stroke-linecap="round"/><line x1="18" y1="4" x2="23" y2="6.5" stroke="#7fa391" stroke-width="2.6" stroke-linecap="round"/><line x1="2" y1="8" x2="1" y2="13.5" stroke="#7fa391" stroke-width="2.6" stroke-linecap="round"/><line x1="-13" y1="4" x2="-25" y2="0" stroke="#7fa391" stroke-width="2.6" stroke-linecap="round"/><path d="M-8,5 Q-18,6 -27,13" stroke="#78ab8c" stroke-width="3.2" fill="none" stroke-linecap="round"/><path d="M-14.0,6.0 C-14.8,4.4 -10.8,1.0 -9.0,-1.0 C-7.2,-3.0 -5.3,-4.9 -3.0,-6.0 C-0.7,-7.1 2.3,-7.6 5.0,-7.5 C7.7,-7.4 10.7,-6.4 13.0,-5.5 C15.3,-4.6 17.6,-3.4 19.0,-2.0 C20.4,-0.6 22.0,1.4 21.5,3.0 C21.0,4.6 18.6,6.5 16.0,7.5 C13.4,8.5 9.3,8.8 6.0,9.0 C2.7,9.2 -0.7,9.0 -4.0,8.5 C-7.3,8.0 -13.2,7.6 -14.0,6.0 Z" fill="#78ab8c"/><ellipse cx="1" cy="0" rx="6.5" ry="3.8" fill="#26724a"/></g><g transform="translate(614,376) rotate(-12) scale(0.82,0.82)"><line x1="-9" y1="-3" x2="-17" y2="-10" stroke="#7fa391" stroke-width="2.6" stroke-linecap="round"/><line x1="-3" y1="-6" x2="-5" y2="-13" stroke="#7fa391" stroke-width="2.6" stroke-linecap="round"/><line x1="11" y1="-5" x2="13" y2="-10" stroke="#7fa391" stroke-width="2.6" stroke-linecap="round"/><line x1="18" y1="-1" x2="24" y2="-3" stroke="#7fa391" stroke-width="2.6" stroke-linecap="round"/><line x1="18" y1="4" x2="23" y2="6.5" stroke="#7fa391" stroke-width="2.6" stroke-linecap="round"/><line x1="2" y1="8" x2="1" y2="13.5" stroke="#7fa391" stroke-width="2.6" stroke-linecap="round"/><line x1="-13" y1="4" x2="-25" y2="0" stroke="#7fa391" stroke-width="2.6" stroke-linecap="round"/><path d="M-8,5 Q-18,6 -27,13" stroke="#78ab8c" stroke-width="3.2" fill="none" stroke-linecap="round"/><path d="M-14.0,6.0 C-14.8,4.4 -10.8,1.0 -9.0,-1.0 C-7.2,-3.0 -5.3,-4.9 -3.0,-6.0 C-0.7,-7.1 2.3,-7.6 5.0,-7.5 C7.7,-7.4 10.7,-6.4 13.0,-5.5 C15.3,-4.6 17.6,-3.4 19.0,-2.0 C20.4,-0.6 22.0,1.4 21.5,3.0 C21.0,4.6 18.6,6.5 16.0,7.5 C13.4,8.5 9.3,8.8 6.0,9.0 C2.7,9.2 -0.7,9.0 -4.0,8.5 C-7.3,8.0 -13.2,7.6 -14.0,6.0 Z" fill="#78ab8c"/><ellipse cx="1" cy="0" rx="6.5" ry="3.8" fill="#26724a"/></g><g transform="translate(657,378) rotate(8) scale(0.62,0.62)"><line x1="-9" y1="-3" x2="-17" y2="-10" stroke="#7fa391" stroke-width="2.6" stroke-linecap="round"/><line x1="-3" y1="-6" x2="-5" y2="-13" stroke="#7fa391" stroke-width="2.6" stroke-linecap="round"/><line x1="11" y1="-5" x2="13" y2="-10" stroke="#7fa391" stroke-width="2.6" stroke-linecap="round"/><line x1="18" y1="-1" x2="24" y2="-3" stroke="#7fa391" stroke-width="2.6" stroke-linecap="round"/><line x1="18" y1="4" x2="23" y2="6.5" stroke="#7fa391" stroke-width="2.6" stroke-linecap="round"/><line x1="2" y1="8" x2="1" y2="13.5" stroke="#7fa391" stroke-width="2.6" stroke-linecap="round"/><line x1="-13" y1="4" x2="-25" y2="0" stroke="#7fa391" stroke-width="2.6" stroke-linecap="round"/><path d="M-8,5 Q-18,6 -27,13" stroke="#78ab8c" stroke-width="3.2" fill="none" stroke-linecap="round"/><path d="M-14.0,6.0 C-14.8,4.4 -10.8,1.0 -9.0,-1.0 C-7.2,-3.0 -5.3,-4.9 -3.0,-6.0 C-0.7,-7.1 2.3,-7.6 5.0,-7.5 C7.7,-7.4 10.7,-6.4 13.0,-5.5 C15.3,-4.6 17.6,-3.4 19.0,-2.0 C20.4,-0.6 22.0,1.4 21.5,3.0 C21.0,4.6 18.6,6.5 16.0,7.5 C13.4,8.5 9.3,8.8 6.0,9.0 C2.7,9.2 -0.7,9.0 -4.0,8.5 C-7.3,8.0 -13.2,7.6 -14.0,6.0 Z" fill="#78ab8c"/><ellipse cx="1" cy="0" rx="6.5" ry="3.8" fill="#26724a"/></g><g transform="translate(617,413.5) rotate(0) scale(1.0,1.0)"><line x1="-9" y1="-3" x2="-17" y2="-10" stroke="#7fa391" stroke-width="2.6" stroke-linecap="round"/><line x1="-3" y1="-6" x2="-5" y2="-13" stroke="#7fa391" stroke-width="2.6" stroke-linecap="round"/><line x1="11" y1="-5" x2="13" y2="-10" stroke="#7fa391" stroke-width="2.6" stroke-linecap="round"/><line x1="18" y1="-1" x2="24" y2="-3" stroke="#7fa391" stroke-width="2.6" stroke-linecap="round"/><line x1="18" y1="4" x2="23" y2="6.5" stroke="#7fa391" stroke-width="2.6" stroke-linecap="round"/><line x1="2" y1="8" x2="1" y2="13.5" stroke="#7fa391" stroke-width="2.6" stroke-linecap="round"/><line x1="-13" y1="4" x2="-25" y2="0" stroke="#7fa391" stroke-width="2.6" stroke-linecap="round"/><path d="M-8,5 Q-18,6 -27,13" stroke="#78ab8c" stroke-width="3.2" fill="none" stroke-linecap="round"/><path d="M-14.0,6.0 C-14.8,4.4 -10.8,1.0 -9.0,-1.0 C-7.2,-3.0 -5.3,-4.9 -3.0,-6.0 C-0.7,-7.1 2.3,-7.6 5.0,-7.5 C7.7,-7.4 10.7,-6.4 13.0,-5.5 C15.3,-4.6 17.6,-3.4 19.0,-2.0 C20.4,-0.6 22.0,1.4 21.5,3.0 C21.0,4.6 18.6,6.5 16.0,7.5 C13.4,8.5 9.3,8.8 6.0,9.0 C2.7,9.2 -0.7,9.0 -4.0,8.5 C-7.3,8.0 -13.2,7.6 -14.0,6.0 Z" fill="#78ab8c"/><ellipse cx="1" cy="0" rx="6.5" ry="3.8" fill="#26724a"/></g><text x="658.6" y="418.1" font-size="24.3" fill="#3d7a5c" textLength="126" lengthAdjust="spacingAndGlyphs">KCs/MDMs</text><path d="M534.2,371.4 L545.2,377.8 L545.2,373.5 L573.0,373.5 L573.0,377.8 L584.0,371.4 L573.0,365.0 L573.0,369.2 L545.2,369.2 L545.2,365.0 Z" fill="#ffffff" fill-opacity="0.6" stroke="#ffffff" stroke-opacity="0.6" stroke-width="3" stroke-linejoin="round"/><path d="M534.2,371.4 L545.2,377.8 L545.2,373.5 L573.0,373.5 L573.0,377.8 L584.0,371.4 L573.0,365.0 L573.0,369.2 L545.2,369.2 L545.2,365.0 Z" fill="url(#arH)"/><path d="M529.4,363.2 L540.5,357.0 L536.9,354.8 L551.0,330.9 L554.7,333.0 L554.8,320.3 L543.7,326.5 L547.3,328.7 L533.2,352.6 L529.5,350.5 Z" fill="#ffffff" fill-opacity="0.6" stroke="#ffffff" stroke-opacity="0.6" stroke-width="3" stroke-linejoin="round"/><path d="M529.4,363.2 L540.5,357.0 L536.9,354.8 L551.0,330.9 L554.7,333.0 L554.8,320.3 L543.7,326.5 L547.3,328.7 L533.2,352.6 L529.5,350.5 Z" fill="url(#arL)"/><path d="M588.2,363.6 L588.2,350.9 L584.5,353.0 L570.3,328.7 L574.0,326.6 L562.9,320.3 L562.9,333.0 L566.6,330.9 L580.8,355.2 L577.1,357.3 Z" fill="#ffffff" fill-opacity="0.6" stroke="#ffffff" stroke-opacity="0.6" stroke-width="3" stroke-linejoin="round"/><path d="M588.2,363.6 L588.2,350.9 L584.5,353.0 L570.3,328.7 L574.0,326.6 L562.9,320.3 L562.9,333.0 L566.6,330.9 L580.8,355.2 L577.1,357.3 Z" fill="url(#arR)"/><path d="M386,538.4 L410,528.6 L460,524.9 L571.3,514.3 L571.3,556.7 L460,547.4 L410,543.6 Z" fill="url(#wedge)"/><path d="M638.8,535.5 C638.4,536.4 636.6,537.3 635.5,538.1 C634.4,538.9 632.9,539.5 632.1,540.2 C631.3,540.9 631.1,541.6 630.8,542.3 C630.5,543.0 630.4,543.8 630.2,544.5 C630.0,545.3 629.7,545.9 629.8,546.8 C629.9,547.7 630.4,548.7 631.0,549.9 C631.5,551.1 632.9,552.7 633.2,553.9 C633.4,555.0 633.3,556.2 632.5,556.7 C631.7,557.3 629.8,557.1 628.4,557.1 C627.0,557.2 625.4,556.9 624.4,557.0 C623.3,557.2 622.8,557.7 622.1,558.1 C621.5,558.6 621.0,559.1 620.5,559.7 C619.9,560.2 619.2,560.6 618.9,561.4 C618.5,562.2 618.4,563.3 618.2,564.6 C618.0,565.9 618.3,568.1 617.9,569.2 C617.5,570.3 616.8,571.2 615.8,571.2 C614.9,571.2 613.3,570.0 612.1,569.3 C610.9,568.6 609.7,567.5 608.8,567.1 C607.8,566.6 607.1,566.8 606.3,566.8 C605.5,566.8 604.8,567.0 604.1,567.2 C603.3,567.3 602.6,567.3 601.8,567.7 C601.0,568.2 600.3,569.1 599.5,570.1 C598.7,571.1 597.7,573.0 596.8,573.7 C595.8,574.5 594.7,574.9 593.9,574.4 C593.1,573.9 592.4,572.0 591.8,570.8 C591.2,569.6 590.8,567.9 590.2,567.1 C589.6,566.2 589.0,565.9 588.3,565.5 C587.6,565.1 586.9,564.9 586.2,564.6 C585.5,564.3 584.9,563.9 584.0,563.9 C583.1,563.9 582.0,564.2 580.8,564.6 C579.5,565.0 577.7,566.1 576.5,566.2 C575.4,566.3 574.2,566.0 573.8,565.2 C573.4,564.3 573.8,562.4 574.0,561.0 C574.1,559.7 574.7,558.1 574.6,557.0 C574.6,556.0 574.2,555.4 573.9,554.7 C573.5,554.0 573.0,553.4 572.6,552.8 C572.1,552.2 571.9,551.5 571.1,551.0 C570.4,550.5 569.3,550.2 568.0,549.9 C566.8,549.5 564.6,549.5 563.6,548.9 C562.5,548.3 561.7,547.5 561.8,546.6 C561.9,545.6 563.4,544.2 564.2,543.2 C565.1,542.1 566.4,541.1 566.9,540.2 C567.5,539.3 567.5,538.6 567.6,537.8 C567.7,537.0 567.5,536.3 567.5,535.5 C567.4,534.7 567.6,534.0 567.3,533.2 C566.9,532.4 566.1,531.6 565.3,530.6 C564.4,529.6 562.6,528.4 562.0,527.3 C561.5,526.3 561.2,525.2 561.8,524.4 C562.4,523.7 564.4,523.3 565.7,522.9 C567.0,522.4 568.6,522.3 569.6,521.8 C570.5,521.4 570.9,520.8 571.4,520.2 C571.9,519.5 572.2,518.9 572.6,518.2 C573.0,517.5 573.5,517.0 573.6,516.1 C573.8,515.2 573.6,514.1 573.4,512.8 C573.1,511.6 572.3,509.6 572.4,508.4 C572.5,507.2 572.9,506.1 573.8,505.8 C574.7,505.5 576.5,506.3 577.9,506.6 C579.2,506.9 580.7,507.7 581.7,507.8 C582.8,508.0 583.4,507.6 584.2,507.4 C584.9,507.2 585.5,506.8 586.2,506.4 C586.9,506.0 587.6,505.9 588.2,505.2 C588.8,504.5 589.2,503.5 589.8,502.3 C590.3,501.1 590.7,499.0 591.3,498.0 C592.0,497.1 593.0,496.4 593.9,496.6 C594.8,496.9 596.0,498.5 596.9,499.5 C597.9,500.5 598.7,501.9 599.5,502.6 C600.3,503.3 601.0,503.4 601.8,503.6 C602.5,503.8 603.3,503.8 604.1,503.8 C604.8,503.9 605.5,504.2 606.4,503.9 C607.2,503.7 608.2,503.0 609.2,502.3 C610.3,501.6 611.8,500.0 612.9,499.6 C614.0,499.2 615.2,499.1 615.8,499.8 C616.5,500.5 616.6,502.5 616.8,503.8 C617.0,505.2 617.0,506.8 617.3,507.8 C617.6,508.8 618.2,509.3 618.7,509.9 C619.2,510.4 619.8,510.9 620.5,511.3 C621.1,511.8 621.5,512.4 622.4,512.6 C623.2,512.9 624.3,512.9 625.6,512.8 C627.0,512.8 629.1,512.3 630.2,512.5 C631.3,512.8 632.4,513.3 632.5,514.3 C632.7,515.2 631.7,516.9 631.2,518.2 C630.7,519.5 629.7,520.8 629.4,521.8 C629.1,522.8 629.4,523.5 629.5,524.3 C629.6,525.1 629.9,525.8 630.2,526.5 C630.5,527.2 630.5,527.9 631.1,528.6 C631.7,529.3 632.6,529.9 633.7,530.6 C634.9,531.3 636.9,531.9 637.7,532.8 C638.6,533.6 639.1,534.6 638.8,535.5 Z" fill="#8898b2"/><circle cx="599.5" cy="535.5" r="23.0" fill="none" stroke="#6c7e9c" stroke-width="4.2" stroke-dasharray="16.0 6.4"/><circle cx="599.5" cy="535.5" r="16.6" fill="none" stroke="#73859f" stroke-width="2.6" stroke-dasharray="11.2 8.0"/><circle cx="599.5" cy="535.5" r="13.0" fill="#9fb0c8"/><circle cx="599.5" cy="535.5" r="10" fill="#2a4463"/><g><path d="M370.42,539.40 L382.95,537.39 L382.91,534.14 L370.32,532.51 Z" fill="#8099c0"/><circle cx="382.93" cy="535.77" r="1.62" fill="#8099c0"/><path d="M368.40,542.92 L383.61,547.01 L384.81,543.99 L370.96,536.51 Z" fill="#8099c0"/><circle cx="384.21" cy="545.50" r="1.62" fill="#8099c0"/><path d="M364.46,545.72 L374.66,554.56 L377.10,552.41 L369.64,541.16 Z" fill="#8099c0"/><circle cx="375.88" cy="553.48" r="1.62" fill="#8099c0"/><path d="M355.64,545.20 L355.74,556.09 L358.95,556.60 L362.46,546.30 Z" fill="#8099c0"/><circle cx="357.35" cy="556.35" r="1.62" fill="#8099c0"/><path d="M352.58,542.67 L346.84,555.65 L349.62,557.34 L358.48,546.25 Z" fill="#8099c0"/><circle cx="348.23" cy="556.49" r="1.62" fill="#8099c0"/><path d="M350.93,539.83 L342.54,549.40 L344.65,551.87 L355.41,545.07 Z" fill="#8099c0"/><circle cx="343.60" cy="550.63" r="1.62" fill="#8099c0"/><path d="M351.14,531.87 L337.98,532.62 L337.72,535.86 L350.58,538.74 Z" fill="#8099c0"/><circle cx="337.85" cy="534.24" r="1.62" fill="#8099c0"/><path d="M354.59,527.65 L344.38,522.69 L342.51,525.35 L350.62,533.29 Z" fill="#8099c0"/><circle cx="343.45" cy="524.02" r="1.62" fill="#8099c0"/><path d="M357.64,526.16 L349.75,518.40 L347.12,520.31 L352.06,530.22 Z" fill="#8099c0"/><circle cx="348.44" cy="519.36" r="1.62" fill="#8099c0"/><path d="M364.07,526.33 L362.29,510.33 L359.04,510.32 L357.17,526.32 Z" fill="#8099c0"/><circle cx="360.66" cy="510.33" r="1.62" fill="#8099c0"/><path d="M368.71,529.65 L375.17,515.92 L372.41,514.19 L362.87,525.98 Z" fill="#8099c0"/><circle cx="373.79" cy="515.05" r="1.62" fill="#8099c0"/><path d="M370.69,533.73 L382.24,524.16 L380.49,521.42 L366.97,527.92 Z" fill="#8099c0"/><circle cx="381.36" cy="522.79" r="1.62" fill="#8099c0"/><circle cx="360.6" cy="536.1" r="11.5" fill="#8099c0"/><circle cx="360.6" cy="536.1" r="7.82" fill="#a9c1e0"/><circle cx="367.73" cy="536.10" r="0.81" fill="#eef3fa"/><circle cx="367.19" cy="538.83" r="0.81" fill="#eef3fa"/><circle cx="365.64" cy="541.14" r="0.81" fill="#eef3fa"/><circle cx="363.33" cy="542.69" r="0.81" fill="#eef3fa"/><circle cx="360.60" cy="543.23" r="0.81" fill="#eef3fa"/><circle cx="357.87" cy="542.69" r="0.81" fill="#eef3fa"/><circle cx="355.56" cy="541.14" r="0.81" fill="#eef3fa"/><circle cx="354.01" cy="538.83" r="0.81" fill="#eef3fa"/><circle cx="353.47" cy="536.10" r="0.81" fill="#eef3fa"/><circle cx="354.01" cy="533.37" r="0.81" fill="#eef3fa"/><circle cx="355.56" cy="531.06" r="0.81" fill="#eef3fa"/><circle cx="357.87" cy="529.51" r="0.81" fill="#eef3fa"/><circle cx="360.60" cy="528.97" r="0.81" fill="#eef3fa"/><circle cx="363.33" cy="529.51" r="0.81" fill="#eef3fa"/><circle cx="365.64" cy="531.06" r="0.81" fill="#eef3fa"/><circle cx="367.19" cy="533.37" r="0.81" fill="#eef3fa"/><circle cx="360.6" cy="536.1" r="6" fill="#1f4f87"/></g><path d="M336.6,676.3 C340.4,675.4 352.3,674.8 359.2,670.7 C366.1,666.6 372.5,660.1 378.0,651.8 C383.5,643.5 388.3,630.1 392.2,621.1 C396.1,612.1 398.9,606.1 401.6,597.5 C404.4,588.9 405.9,579.8 408.7,569.2 C411.5,558.6 415.4,544.7 418.2,533.7 C421.0,522.7 423.4,510.0 425.3,503.0 C427.2,496.0 427.9,492.9 429.5,491.7 C431.1,490.5 432.3,491.0 434.7,496.0 C437.1,501.0 441.0,510.5 444.1,521.9 C447.2,533.3 450.8,551.0 453.6,564.4 C456.4,577.8 458.6,589.6 460.7,602.2 C462.8,614.8 464.3,630.2 466.0,640.0 C467.7,649.8 469.0,656.1 471.0,661.0 C473.0,665.9 475.7,669.0 478.0,669.5 C480.3,670.0 482.8,667.9 485.0,664.0 C487.2,660.1 489.1,652.3 491.0,646.0 C492.9,639.7 494.9,630.8 496.5,626.0 C498.1,621.2 499.1,617.5 500.4,617.5 C501.6,617.5 502.6,620.6 504.0,626.0 C505.4,631.4 507.2,643.2 509.0,650.0 C510.8,656.8 512.5,663.2 515.0,667.0 C517.5,670.8 520.8,671.7 524.0,673.0 C527.2,674.3 528.0,674.2 534.0,674.7 C540.0,675.2 549.0,675.7 560.0,676.0 C571.0,676.3 585.8,676.2 600.0,676.3 C614.2,676.3 637.5,676.3 645.0,676.3 L645,676.3 L336.6,676.3 Z" fill="#93c5f3" fill-opacity="0.55"/><path d="M336.6,676.3 C340.4,675.4 352.3,674.8 359.2,670.7 C366.1,666.6 372.5,660.1 378.0,651.8 C383.5,643.5 388.3,630.1 392.2,621.1 C396.1,612.1 398.9,606.1 401.6,597.5 C404.4,588.9 405.9,579.8 408.7,569.2 C411.5,558.6 415.4,544.7 418.2,533.7 C421.0,522.7 423.4,510.0 425.3,503.0 C427.2,496.0 427.9,492.9 429.5,491.7 C431.1,490.5 432.3,491.0 434.7,496.0 C437.1,501.0 441.0,510.5 444.1,521.9 C447.2,533.3 450.8,551.0 453.6,564.4 C456.4,577.8 458.6,589.6 460.7,602.2 C462.8,614.8 464.3,630.2 466.0,640.0 C467.7,649.8 469.0,656.1 471.0,661.0 C473.0,665.9 475.7,669.0 478.0,669.5 C480.3,670.0 482.8,667.9 485.0,664.0 C487.2,660.1 489.1,652.3 491.0,646.0 C492.9,639.7 494.9,630.8 496.5,626.0 C498.1,621.2 499.1,617.5 500.4,617.5 C501.6,617.5 502.6,620.6 504.0,626.0 C505.4,631.4 507.2,643.2 509.0,650.0 C510.8,656.8 512.5,663.2 515.0,667.0 C517.5,670.8 520.8,671.7 524.0,673.0 C527.2,674.3 528.0,674.2 534.0,674.7 C540.0,675.2 549.0,675.7 560.0,676.0 C571.0,676.3 585.8,676.2 600.0,676.3 C614.2,676.3 637.5,676.3 645.0,676.3" fill="none" stroke="#1f2a36" stroke-width="1"/><path d="M336.6,723.3 C343.8,723.1 366.1,722.9 380.0,722.0 C393.9,721.1 411.3,719.6 420.0,717.9 C428.7,716.2 427.8,714.9 432.0,711.8 C436.2,708.7 441.7,704.1 445.0,699.5 C448.3,694.9 450.2,690.6 452.0,684.0 C453.8,677.4 454.8,671.5 456.0,660.0 C457.2,648.5 458.0,633.3 459.0,615.0 C460.0,596.7 461.0,569.5 462.0,550.0 C463.0,530.5 464.1,509.6 465.0,498.0 C465.9,486.4 466.6,481.9 467.3,480.6 C468.1,479.3 468.8,485.9 469.5,490.0 C470.2,494.1 470.5,493.3 471.3,505.0 C472.1,516.7 473.3,545.8 474.3,560.0 C475.3,574.2 476.2,580.0 477.2,590.0 C478.1,600.0 478.9,612.8 480.0,620.0 C481.1,627.2 482.4,632.8 483.7,633.5 C485.0,634.2 486.3,632.1 488.0,624.0 C489.7,615.9 491.9,596.0 494.0,585.0 C496.1,574.0 498.9,559.3 500.9,558.0 C502.9,556.7 504.3,567.8 506.0,577.0 C507.7,586.2 509.4,604.4 511.0,613.0 C512.6,621.6 514.2,626.7 515.5,628.4 C516.8,630.1 517.7,624.6 519.0,623.0 C520.3,621.4 521.9,616.8 523.2,619.0 C524.5,621.2 525.3,626.9 527.0,636.0 C528.7,645.1 531.1,663.0 533.5,673.8 C535.9,684.6 537.1,693.5 541.1,700.7 C545.1,707.9 550.6,713.3 557.3,716.9 C564.0,720.5 572.7,721.4 581.5,722.5 C590.3,723.6 599.4,723.2 610.0,723.3 C620.6,723.4 639.2,723.3 645.0,723.3 L645,723.3 L336.6,723.3 Z" fill="#66a2db" fill-opacity="0.75"/><path d="M336.6,723.3 C343.8,723.1 366.1,722.9 380.0,722.0 C393.9,721.1 411.3,719.6 420.0,717.9 C428.7,716.2 427.8,714.9 432.0,711.8 C436.2,708.7 441.7,704.1 445.0,699.5 C448.3,694.9 450.2,690.6 452.0,684.0 C453.8,677.4 454.8,671.5 456.0,660.0 C457.2,648.5 458.0,633.3 459.0,615.0 C460.0,596.7 461.0,569.5 462.0,550.0 C463.0,530.5 464.1,509.6 465.0,498.0 C465.9,486.4 466.6,481.9 467.3,480.6 C468.1,479.3 468.8,485.9 469.5,490.0 C470.2,494.1 470.5,493.3 471.3,505.0 C472.1,516.7 473.3,545.8 474.3,560.0 C475.3,574.2 476.2,580.0 477.2,590.0 C478.1,600.0 478.9,612.8 480.0,620.0 C481.1,627.2 482.4,632.8 483.7,633.5 C485.0,634.2 486.3,632.1 488.0,624.0 C489.7,615.9 491.9,596.0 494.0,585.0 C496.1,574.0 498.9,559.3 500.9,558.0 C502.9,556.7 504.3,567.8 506.0,577.0 C507.7,586.2 509.4,604.4 511.0,613.0 C512.6,621.6 514.2,626.7 515.5,628.4 C516.8,630.1 517.7,624.6 519.0,623.0 C520.3,621.4 521.9,616.8 523.2,619.0 C524.5,621.2 525.3,626.9 527.0,636.0 C528.7,645.1 531.1,663.0 533.5,673.8 C535.9,684.6 537.1,693.5 541.1,700.7 C545.1,707.9 550.6,713.3 557.3,716.9 C564.0,720.5 572.7,721.4 581.5,722.5 C590.3,723.6 599.4,723.2 610.0,723.3 C620.6,723.4 639.2,723.3 645.0,723.3" fill="none" stroke="#1f2a36" stroke-width="1"/><path d="M336.6,771.0 C350.5,770.9 401.8,771.0 420.0,770.4 C438.2,769.8 439.9,770.3 446.0,767.4 C452.1,764.5 453.4,760.1 456.3,753.0 C459.2,745.9 461.4,734.0 463.4,725.0 C465.4,716.0 466.8,703.4 468.4,698.7 C470.0,694.0 471.3,696.7 473.0,697.0 C474.7,697.3 475.9,703.4 478.5,700.7 C481.1,698.0 486.0,688.2 488.6,680.6 C491.2,673.0 492.1,661.9 494.0,655.0 C495.9,648.1 498.0,639.7 499.7,639.2 C501.4,638.7 502.5,645.1 504.0,652.0 C505.5,658.9 507.1,670.1 508.8,680.6 C510.5,691.1 512.3,705.6 514.0,715.0 C515.7,724.4 517.4,735.4 518.9,737.1 C520.4,738.8 521.3,731.1 523.0,725.0 C524.7,718.9 527.2,709.5 529.0,700.7 C530.8,691.9 532.3,680.4 534.0,672.0 C535.7,663.6 537.4,656.5 539.1,650.3 C540.8,644.1 542.1,638.6 544.0,635.0 C545.9,631.4 548.2,628.3 550.2,628.5 C552.2,628.7 554.1,631.7 556.0,636.0 C557.9,640.3 558.4,644.2 561.3,654.3 C564.2,664.4 569.4,685.2 573.4,696.7 C577.4,708.2 580.8,712.9 585.5,723.0 C590.2,733.1 596.3,749.7 601.7,757.3 C607.1,764.9 613.1,766.2 617.8,768.4 C622.5,770.6 625.5,770.2 630.0,770.6 C634.5,771.0 642.5,770.9 645.0,771.0 L645,771 L336.6,771 Z" fill="#325070" fill-opacity="0.72"/><path d="M336.6,771.0 C350.5,770.9 401.8,771.0 420.0,770.4 C438.2,769.8 439.9,770.3 446.0,767.4 C452.1,764.5 453.4,760.1 456.3,753.0 C459.2,745.9 461.4,734.0 463.4,725.0 C465.4,716.0 466.8,703.4 468.4,698.7 C470.0,694.0 471.3,696.7 473.0,697.0 C474.7,697.3 475.9,703.4 478.5,700.7 C481.1,698.0 486.0,688.2 488.6,680.6 C491.2,673.0 492.1,661.9 494.0,655.0 C495.9,648.1 498.0,639.7 499.7,639.2 C501.4,638.7 502.5,645.1 504.0,652.0 C505.5,658.9 507.1,670.1 508.8,680.6 C510.5,691.1 512.3,705.6 514.0,715.0 C515.7,724.4 517.4,735.4 518.9,737.1 C520.4,738.8 521.3,731.1 523.0,725.0 C524.7,718.9 527.2,709.5 529.0,700.7 C530.8,691.9 532.3,680.4 534.0,672.0 C535.7,663.6 537.4,656.5 539.1,650.3 C540.8,644.1 542.1,638.6 544.0,635.0 C545.9,631.4 548.2,628.3 550.2,628.5 C552.2,628.7 554.1,631.7 556.0,636.0 C557.9,640.3 558.4,644.2 561.3,654.3 C564.2,664.4 569.4,685.2 573.4,696.7 C577.4,708.2 580.8,712.9 585.5,723.0 C590.2,733.1 596.3,749.7 601.7,757.3 C607.1,764.9 613.1,766.2 617.8,768.4 C622.5,770.6 625.5,770.2 630.0,770.6 C634.5,771.0 642.5,770.9 645.0,771.0" fill="none" stroke="#1f2a36" stroke-width="1"/><line x1="430" y1="486" x2="430" y2="799" stroke="#484848" stroke-width="1.1" stroke-dasharray="3.6 3"/><line x1="467.4" y1="480" x2="467.4" y2="799" stroke="#484848" stroke-width="1.1" stroke-dasharray="3.6 3"/><line x1="501" y1="484" x2="501" y2="799" stroke="#484848" stroke-width="1.1" stroke-dasharray="3.6 3"/><line x1="550.5" y1="485" x2="550.5" y2="799" stroke="#484848" stroke-width="1.1" stroke-dasharray="3.6 3"/><path d="M354.5,773.5 L619.8,773.5 L631,782 L619.8,790.5 L354.5,790.5 Z" fill="url(#viridis)"/><text x="439.4" y="787.8" font-size="17" fill="#e2fbf6" textLength="91.8" lengthAdjust="spacingAndGlyphs">Pseudotime</text><circle cx="273.5" cy="613.2" r="9" fill="#c2def6"/><circle cx="273.5" cy="699.5" r="9" fill="#5a95cf"/><circle cx="273.5" cy="748.5" r="9" fill="#2d4a6a"/><text x="289.4" y="620.9" font-size="19.8" fill="#1a1a1a" textLength="63.5" lengthAdjust="spacingAndGlyphs">Vehicle</text><text x="288.5" y="707.2" font-size="19.5" fill="#1a1a1a">CCl<tspan font-size="12" dy="5">4</tspan><tspan dy="-5">, 2w</tspan></text><text x="288.5" y="756.2" font-size="19.5" fill="#1a1a1a">CCl<tspan font-size="12" dy="5">4</tspan><tspan dy="-5">, 4w</tspan></text><text x="243.9" y="819.8" font-size="21.5" fill="#1a1a1a" textLength="139" lengthAdjust="spacingAndGlyphs">Activation State</text><text x="430" y="819.7" font-size="21.5" fill="#1a1a1a" text-anchor="middle">I</text><text x="468.1" y="819.7" font-size="21.5" fill="#1a1a1a" text-anchor="middle">II</text><text x="500.6" y="819.7" font-size="21.5" fill="#1a1a1a" text-anchor="middle">III</text><text x="550.2" y="819.7" font-size="21.5" fill="#1a1a1a" text-anchor="middle">IV</text><path d="M658.9,524.6 L773.9,524.6 L773.9,790.7 L658.9,790.7 L658.9,790.5 L645,782 L658.9,773.5 Z" fill="url(#ypanel)"/><path d="M658.9,773.5 L645,782 L658.9,790.5 Z" fill="#f7df3a"/><path d="M668,512 L700,503 L724,514 L748,538 L768,560 L772,586 L752,592 L726,574 L703,550 L676,532 Z" fill="#f7fafc" filter="url(#blur3)" opacity="0.9"/><g filter="url(#blur6)"><ellipse cx="697" cy="519" rx="17" ry="9.5" fill="#a3c9e8" transform="rotate(10 697 519)"/><ellipse cx="722" cy="538" rx="18" ry="8" fill="#94bfe3" transform="rotate(55 722 538)"/><ellipse cx="746" cy="568" rx="17" ry="11" fill="#a3c9e8" transform="rotate(30 746 568)"/></g><g filter="url(#blur2)"><path d="M708,514 Q720,535 734,555" stroke="#5d96c8" stroke-width="4.5" fill="none" opacity="0.55"/></g><path d="M666,793 L670,772 L688,756 L703,744 L713,727 L726,710 L745,702 L764,708 L770,732 L763,758 L747,768 L728,774 L718,792 Z" fill="#f8d9a4" filter="url(#blur3)" opacity="0.95"/><g filter="url(#blur4)"><ellipse cx="690" cy="778" rx="22" ry="12" fill="#f0952f"/><ellipse cx="713" cy="757" rx="10" ry="20" fill="#ee8f35" transform="rotate(20 713 757)"/><ellipse cx="741" cy="724" rx="15" ry="17" fill="#f3a458" opacity="0.85"/></g><g filter="url(#blur2)"><path d="M707,783 Q713,761 722,742" stroke="#c0641e" stroke-width="5" fill="none" opacity="0.6"/></g><text x="664.4" y="498.9" font-size="14.5" fill="#2b2b2b" stroke="#2b2b2b" stroke-width="0.2" textLength="98.8" lengthAdjust="spacingAndGlyphs">HSC WGCNA</text><text x="663.4" y="556.5" font-size="14" font-style="italic" fill="#2f6294" stroke="#2f6294" stroke-width="0.35" textLength="51.6" lengthAdjust="spacingAndGlyphs">Angplt6</text><text x="670.1" y="575.2" font-size="14" font-style="italic" fill="#2f6294" stroke="#2f6294" stroke-width="0.35" textLength="38.9" lengthAdjust="spacingAndGlyphs">Bmp5</text><text x="667.4" y="594.7" font-size="14" font-style="italic" fill="#2f6294" stroke="#2f6294" stroke-width="0.35" textLength="45.0" lengthAdjust="spacingAndGlyphs">Cxcl12</text><text x="670.8" y="614.8" font-size="14" font-style="italic" fill="#2f6294" stroke="#2f6294" stroke-width="0.35" textLength="36.2" lengthAdjust="spacingAndGlyphs">Ecm1</text><text x="671.5" y="633.6" font-size="14" font-style="italic" fill="#2f6294" stroke="#2f6294" stroke-width="0.35" textLength="35.5" lengthAdjust="spacingAndGlyphs">Plvap</text><circle cx="688.9" cy="643.6" r="0.9" fill="#346796"/><circle cx="688.9" cy="648.3" r="0.9" fill="#346796"/><circle cx="688.9" cy="653" r="0.9" fill="#346796"/><text x="729.1" y="616.1" font-size="14" font-style="italic" fill="#a9221a" stroke="#a9221a" stroke-width="0.35" textLength="22.1" lengthAdjust="spacingAndGlyphs">Dpt</text><text x="719.7" y="634.9" font-size="14" font-style="italic" fill="#a9221a" stroke="#a9221a" stroke-width="0.35" textLength="41.6" lengthAdjust="spacingAndGlyphs">Dpep1</text><text x="717.5" y="656.4" font-size="14" font-style="italic" fill="#a9221a" stroke="#a9221a" stroke-width="0.35" textLength="45.9" lengthAdjust="spacingAndGlyphs">Col1a1</text><text x="717.5" y="676" font-size="14" font-style="italic" fill="#a9221a" stroke="#a9221a" stroke-width="0.35" textLength="45.9" lengthAdjust="spacingAndGlyphs">Col1a2</text><text x="719.7" y="694.7" font-size="14" font-style="italic" fill="#a9221a" stroke="#a9221a" stroke-width="0.35" textLength="42.6" lengthAdjust="spacingAndGlyphs">Mfap4</text><text x="724" y="714.3" font-size="14" font-style="italic" fill="#a9221a" stroke="#a9221a" stroke-width="0.35" textLength="34.0" lengthAdjust="spacingAndGlyphs">Gpx3</text><text x="724" y="734" font-size="14" font-style="italic" fill="#a9221a" stroke="#a9221a" stroke-width="0.35" textLength="34.0" lengthAdjust="spacingAndGlyphs">Gas6</text><circle cx="769.4" cy="612.8" r="3" fill="#a8202a"/><line x1="769.4" y1="612.8" x2="783.5" y2="612.8" stroke="#a8202a" stroke-width="1.6"/><circle cx="769.4" cy="631.6" r="3" fill="#a8202a"/><line x1="769.4" y1="631.6" x2="783.5" y2="631.6" stroke="#a8202a" stroke-width="1.6"/><circle cx="769.4" cy="671.3" r="3" fill="#a8202a"/><line x1="769.4" y1="671.3" x2="783.5" y2="671.3" stroke="#a8202a" stroke-width="1.6"/><circle cx="769.4" cy="689.9" r="3" fill="#a8202a"/><line x1="769.4" y1="689.9" x2="783.5" y2="689.9" stroke="#a8202a" stroke-width="1.6"/><path d="M783.5,612.8 L783.5,753.3 L844.8,753.3" fill="none" stroke="#a8202a" stroke-width="1.6"/><line x1="857.6" y1="671.3" x2="857.6" y2="753.3" stroke="#c8c8c8" stroke-width="0.8"/><line x1="870.4" y1="671.3" x2="870.4" y2="753.3" stroke="#c8c8c8" stroke-width="0.8"/><line x1="883.2" y1="671.3" x2="883.2" y2="753.3" stroke="#c8c8c8" stroke-width="0.8"/><line x1="896.0" y1="671.3" x2="896.0" y2="753.3" stroke="#c8c8c8" stroke-width="0.8"/><line x1="908.8" y1="671.3" x2="908.8" y2="753.3" stroke="#c8c8c8" stroke-width="0.8"/><line x1="844.8" y1="691.8" x2="908.8" y2="691.8" stroke="#c8c8c8" stroke-width="0.8"/><line x1="844.8" y1="712.3" x2="908.8" y2="712.3" stroke="#c8c8c8" stroke-width="0.8"/><line x1="844.8" y1="732.8" x2="908.8" y2="732.8" stroke="#c8c8c8" stroke-width="0.8"/><line x1="844.8" y1="753.3" x2="908.8" y2="671.3" stroke="#c8c8c8" stroke-width="0.6"/><path d="M844.8,753.3 L844.8,690.3 L846.5,686 L847.5,684 L848,678 L849,672.8 L850,671.3 L908.8,671.3" fill="none" stroke="#b0202a" stroke-width="1.6"/><text x="840.5" y="675.5" font-size="8" fill="#333" text-anchor="middle">1</text><text x="840.5" y="756.5" font-size="8" fill="#333" text-anchor="middle">0</text><text x="845.5" y="763" font-size="8" fill="#333" text-anchor="middle">0</text><text x="909" y="762" font-size="8" fill="#333" text-anchor="middle">1</text><text x="0" y="0" font-size="10" fill="#333" text-anchor="middle" transform="translate(840.5,712.3) rotate(-90)">SE</text><text x="877" y="765.5" font-size="10.5" fill="#333" text-anchor="middle">1 - SP</text><text x="890.2" y="741" font-size="6" fill="#444" text-anchor="middle">AUROC</text><text x="890.2" y="749.5" font-size="5.5" fill="#444" text-anchor="middle">0.960</text><text x="787.2" y="789.8" font-size="15" fill="#2b2b2b" stroke="#2b2b2b" stroke-width="0.2" textLength="171" lengthAdjust="spacingAndGlyphs">FIBROSIS PREDICTION</text><path d="M836.4,659.0 C836.7,656.0 837.5,647.5 838.3,640.8 C839.1,634.1 840.5,624.5 841.0,618.9 C841.5,613.3 842.1,607.4 841.0,607.1 C839.9,606.8 836.9,613.3 834.6,617.1 C832.3,620.9 829.4,625.4 827.3,629.9 C825.2,634.4 824.0,641.2 821.9,644.4 C819.8,647.6 817.0,648.7 814.6,649.0 C812.2,649.3 808.7,648.9 807.3,646.3 C805.9,643.7 806.1,636.5 806.4,633.5 C806.7,630.5 807.1,630.1 809.1,628.0 C811.1,625.9 816.4,623.4 818.2,620.7 C820.0,618.0 819.1,615.2 820.0,611.6 C820.9,608.0 821.9,603.8 823.7,598.9 C825.5,594.0 829.3,587.7 831.0,582.5 C832.7,577.3 832.8,572.5 833.7,567.9 C834.6,563.3 834.4,558.6 836.4,555.1 C838.4,551.6 841.6,549.0 845.6,547.0 C849.6,545.0 856.9,544.4 860.1,543.3 C863.3,542.2 863.8,542.6 864.7,540.6 C865.6,538.6 865.8,533.8 865.6,531.4 C865.5,529.0 864.0,528.2 863.8,526.0 C863.6,523.8 864.1,520.7 864.5,518.0 C864.9,515.3 865.1,512.2 866.0,510.0 C866.9,507.8 868.2,506.0 870.0,505.0 C871.8,504.0 874.3,504.0 876.5,504.0 C878.7,504.0 881.2,504.0 883.0,505.0 C884.8,506.0 886.1,507.8 887.0,510.0 C887.9,512.2 888.1,515.3 888.5,518.0 C888.9,520.7 889.4,523.8 889.2,526.0 C889.0,528.2 887.5,529.0 887.4,531.4 C887.2,533.8 887.4,538.6 888.3,540.6 C889.2,542.6 889.7,542.2 892.9,543.3 C896.1,544.4 903.4,545.0 907.4,547.0 C911.4,549.0 914.6,551.6 916.6,555.1 C918.6,558.6 918.4,563.3 919.3,567.9 C920.2,572.5 920.3,577.3 922.0,582.5 C923.7,587.7 927.5,594.0 929.3,598.9 C931.1,603.8 932.1,608.0 933.0,611.6 C933.9,615.2 933.0,618.0 934.8,620.7 C936.6,623.4 941.9,625.9 943.9,628.0 C945.9,630.1 946.3,630.5 946.6,633.5 C946.9,636.5 947.1,643.7 945.7,646.3 C944.3,648.9 940.8,649.3 938.4,649.0 C936.0,648.7 933.2,647.6 931.1,644.4 C929.0,641.2 927.8,634.4 925.7,629.9 C923.6,625.4 920.7,620.9 918.4,617.1 C916.1,613.3 913.1,606.8 912.0,607.1 C910.9,607.4 911.5,613.3 912.0,618.9 C912.5,624.5 913.9,634.1 914.7,640.8 C915.5,647.5 916.3,656.0 916.6,659.0" fill="none" stroke="url(#bodyfade)" stroke-width="1"/><path d="M855.0,586.0 C858.2,584.4 865.5,584.6 872.0,584.5 C878.5,584.4 890.5,584.6 894.0,585.5 C897.5,586.4 894.7,588.2 893.0,590.0 C891.3,591.8 886.8,594.2 884.0,596.0 C881.2,597.8 879.0,598.8 876.0,600.5 C873.0,602.2 869.2,604.1 866.0,606.0 C862.8,607.9 859.2,612.2 857.0,612.0 C854.8,611.8 853.7,608.0 853.0,605.0 C852.3,602.0 852.7,597.2 853.0,594.0 C853.3,590.8 851.8,587.6 855.0,586.0 Z" fill="#bcbcbc"/>
</svg></body></html>
